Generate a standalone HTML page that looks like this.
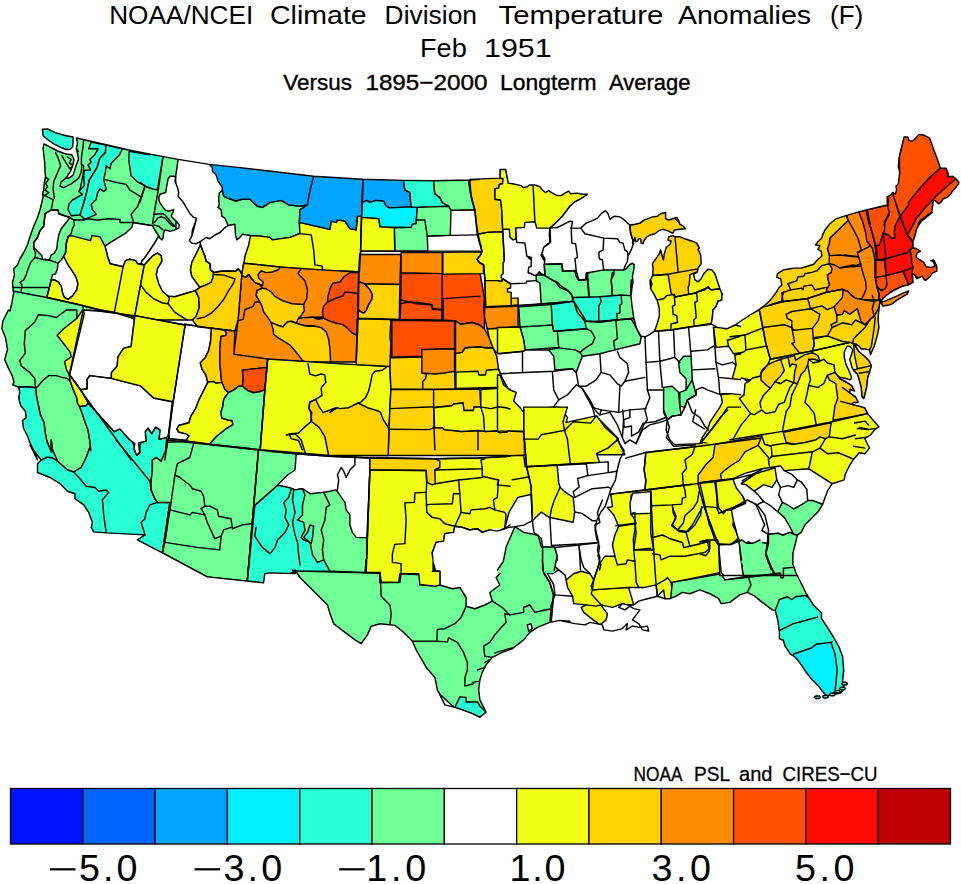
<!DOCTYPE html>
<html><head><meta charset="utf-8"><title>NOAA/NCEI Climate Division Temperature Anomalies</title>
<style>
html,body{margin:0;padding:0;background:#fff;}
body{width:961px;height:884px;overflow:hidden;font-family:"Liberation Sans",sans-serif;}
svg{display:block;}
text{font-family:"Liberation Sans",sans-serif;fill:#000;}
.p{stroke:#000;stroke-width:1.45;stroke-linejoin:round;}
.n{stroke:none;}
.l{fill:none;stroke:#000;stroke-width:1.45;stroke-linejoin:round;stroke-linecap:round;}
</style></head><body>
<svg width="961" height="884" viewBox="0 0 961 884">
<rect x="0" y="0" width="961" height="884" fill="#fff"/>
<defs><clipPath id="us"><polygon points="44,143.9 50,147 57.5,151 63.7,153.2 67.5,154.2 71.8,154.7 74,159.5 73.1,164.5 70.6,171.3 66.8,176.9 68.5,178.4 73.1,175.1 76.2,165.1 78.5,159.5 77.8,154.5 76.2,148.8 77.5,143.2 76.5,138 87.4,140.5 107.4,145 128.6,150 163.1,156.6 178.1,159.4 209.4,164.4 240,167.6 277.5,172 313.7,176.2 362.4,179.2 403.6,180.4 433.6,180.7 469.8,180 480,179.3 470,179.4 500,178.1 500,169.4 505.6,169.4 507.5,178.7 508.1,183.1 512.5,183.7 521.2,185.6 523.1,187.5 527.4,186.8 529.3,185 534.9,185 539.9,186.8 542.4,190 545.5,192.5 548.7,190.6 552.4,193.1 557.4,195.6 561.2,195.6 564.9,193.1 568.7,191.2 570.5,193.7 577.4,193.1 582.4,194.3 587.4,194.3 581.1,198.7 574.9,201.8 569.9,206.2 566.2,211.2 562.4,216.2 557.4,221.2 553.7,224.9 549.9,228.1 557.5,227.5 565,223.7 570,221.2 572.5,221.8 571.8,225.6 571.2,228.1 575,228.1 580.6,228.1 586.2,223.1 592.5,220.6 597.4,218.1 601.2,213.7 605.6,210.6 608.1,213.7 609.9,219.4 613.1,216.9 614.9,216.2 619.9,216.9 623.7,219.4 627.4,223.1 629.9,225 634.9,224.3 639.9,223.1 644.9,219.4 646.2,219.4 652.5,216.9 657.5,216.2 660.6,213.7 665.6,212.5 665.6,218.7 668.7,220 672.5,218.7 676.8,217.5 678.7,220.6 680,224.4 683.1,226.2 685.6,228.7 680,229.3 674.3,230 673.1,233.1 671.2,232.5 667.5,230.6 662.5,229.3 658.1,231.2 655,233.7 650,235 646.2,237.5 643.7,241.2 643.1,243.7 641.2,243.1 640.6,238.7 638.7,238.7 637.5,241.2 635.6,241.8 635,237.5 633.7,241.2 632.5,242.5 633.7,243.1 631.2,249.9 628,256.2 627.4,261.2 624.9,266.2 623.7,269.9 626.2,268.7 629.9,264.3 632.4,263.1 634.3,264.9 633.7,269.9 632.4,276.2 633,282.4 631.8,288.7 631.2,294.9 631.2,280 630.6,292.5 631.9,305 633.7,317.5 636.2,327.5 639.4,333.7 641.2,336.2 645,336.8 650,334.3 654.4,331.2 656.8,325 659.3,316.2 659.3,308.7 657.5,301.2 653.7,293.7 650.6,288.7 651.2,283.7 650,280 650.6,288.7 651.9,283.7 650.6,279.9 652.5,275.5 653.1,269.9 652.5,263.7 655,259.9 658.7,254.9 660.6,250 662.2,256.2 663.5,259.9 664.3,253.7 666.2,247.5 670,244.3 671.2,241.2 668.1,240 668.7,236.8 673.1,235.6 675,236.8 680,236.8 686.2,239.3 692.4,241.2 696.8,243.1 699.3,248.1 698.1,249.3 700.6,254.9 701.2,263.7 698.1,268.1 697.4,271.8 693.7,274.3 694.9,279.9 698.1,281.8 701.2,278.7 703.7,273.7 708,269.3 711.8,269.9 714.9,273.7 717.4,281.2 719.9,288.7 722.4,294.9 721.8,292.5 721.8,300 718,301.2 716.2,306.2 713,310 712.4,317.5 711.2,323.7 711.8,324.3 717.4,327.5 722.4,328.1 727.4,328.7 736.1,324.3 742.4,320 750,315 750,314.9 752.5,313.7 758.7,309.9 763.7,306.2 769.3,301.2 772.5,297.4 776.2,292.4 778.7,288.1 781.8,284.9 780.6,278.7 776.8,277.4 777.5,273.7 783.7,269.9 790,268.7 794.9,268.1 801.2,268.1 807.4,266.2 813.7,264.3 816.2,261.2 818.7,258.7 821.8,256.2 821.2,251.2 818,249.3 819.9,245.6 815.5,245 818,241.8 821.8,238.1 822.4,235.6 824.9,230 829.9,223.7 836.2,218.7 846.1,215.6 858.7,211.9 866.2,210 887.4,205 887.2,203 887.2,196.8 891,194.9 892.8,192.4 895.3,194.3 896.6,189.9 895.9,186.2 898.4,183.7 899.1,177.4 899.7,172.5 898.4,166.2 899.1,157.5 900.9,150 902.8,142.5 904.1,136.9 907.8,136.9 909.1,140.6 912.2,141.2 915.9,138.1 919,134.4 923.4,135 929.7,138.1 933.4,148.7 937.2,158.7 940.3,168.1 945.9,168.1 947.8,172.5 948.4,176.8 952.8,176.2 955.9,178.7 959,182.4 957.8,184.9 955.9,187.4 953.4,189.9 950.9,193.7 947.1,197.4 943.4,198.7 940.9,202.4 938.4,203.7 935.9,201.2 933.4,199.9 932.8,204.9 931.5,212.4 928.4,214.9 924.7,217.4 920.9,219.9 918.4,223.7 932.4,212.5 927.4,215 922.4,220 918.7,225 916.2,230 914.9,236.2 913,241.2 913,247.5 916.2,248.7 920.5,251.2 916.8,253.1 916.2,257.4 919.9,259.9 923.7,262.4 926.2,266.8 931.2,267.4 934.9,266.2 933.7,261.8 930.9,260.6 933.7,259.9 936.8,266.2 936.8,271.2 932.4,273.1 929.9,276.8 926.2,279.9 924.3,279.9 922.4,276.2 919.9,277.4 916.8,278.7 914.9,274.9 912.4,273.7 913,282.4 908.7,284.9 902.4,286.2 893.7,290.5 886.2,295.5 881.8,299.9 880,301.8 885,301.2 891.2,298.4 897.4,295.9 902.4,293.4 908.7,290.9 906.8,294.3 902.4,296.8 897.4,299.9 892.4,303.7 889.9,304.9 883,306 880.5,302 879.8,301.6 878,318.1 878.9,327.5 877,336.8 874.2,346.2 870.5,354.6 869.5,349.9 864.9,349 861.1,349 859.2,346.2 855.5,344.3 855.5,346.2 859.2,351.8 864.9,356.5 869.5,361.2 871.4,365.9 869.5,372.4 867.7,378 866.7,387.4 863.9,398.6 862,396.8 861.1,387.4 859.2,379.9 857.4,374.3 853.6,370.5 851.7,366.8 849.9,359.3 851.7,353.7 852.7,349.9 849.9,346.2 847.1,346.2 844.3,351.8 844.3,357.4 846.1,364.9 848.9,370.5 851.7,378 849.9,379.9 844.3,378 838.6,377.1 840.5,379 846.1,381.8 851.7,385.5 854.6,391.1 849.9,389.3 849.9,393 855.5,396.8 858.3,402.4 853.6,402.4 851.7,404.3 859.2,406.1 864.9,408 867.7,413.6 872.3,419.2 878.9,426.7 875.1,429.4 870.4,435 864.8,438.7 869.5,448.1 864.8,453.7 859.2,452.8 853.6,459.3 849.8,465 845.2,474.3 844.2,479.9 832,483.7 827.4,491.2 824.6,498.7 822.7,504.3 818,511.8 812.4,517.4 804.9,524.9 801.1,532.4 797.4,535.2 795.7,542.4 792.9,553.3 792.9,564.2 795.7,572.3 801.1,583.2 806.5,594 813.3,604.9 821.5,613 821.5,618.5 826.9,626.6 833.7,637.5 839.1,647 842.6,656.5 843.7,670.1 842.6,680.9 844.5,689.1 840.5,693.1 833.7,694.5 826.9,695.9 822.8,691.8 818.7,686.4 812,679.6 806.5,672.8 801.1,664.6 797,659.2 794.3,656.5 790.2,653.8 784.8,645.6 783.4,640.2 779.4,638.8 779.4,632 778,621.2 775.3,610.3 772.3,609.9 762.3,602.4 754.8,596.2 747.3,592.4 739.8,594.9 729.8,602.4 721.1,603.6 718.6,598.7 709.8,593.7 699.8,589.9 689.9,593.7 682.4,592.4 676.1,596.2 669.9,598.7 664.9,598.7 657.4,596.2 647.4,598.7 638.7,601.1 633.7,604.9 627.4,604.9 622.4,603.6 618.7,607.4 624.9,609.9 629.9,606.1 633.7,608.6 639.9,609.9 636.2,614.9 632.4,619.9 638.7,623.6 642.4,629.9 648.6,631.1 647.4,626.1 639.9,627.4 632.4,626.1 626.2,629.9 627.4,623.6 622.4,628.6 612.4,631.1 603.7,629.9 602.4,624.9 590,622.4 585,624.9 575,623.6 562.5,621.1 570,621.2 559.8,620.4 549.8,622.4 537.3,627.4 529.8,632.4 523.6,639.9 512.3,648.7 502.3,652.4 492.3,657.4 486.1,664.9 482.3,672.4 479.9,679.9 478.6,689.9 479.9,699.9 486.1,712.3 486.1,712.3 479.9,717.3 472.4,713.6 462.4,709.9 454.9,707.4 444.9,704.9 437.4,689.9 434.9,677.4 426.2,667.4 416.2,649.9 412.4,641.2 402.4,631.2 394.9,625.4 380,623.7 371.2,626.2 367.5,634.9 361.2,643.7 355,639.9 345,632.4 333.7,623.7 330,613.7 327.5,605 315,592.5 307.5,585 300,577.5 295,570 296.2,571.1 295,573.6 270,572.9 264.8,573.6 263.5,582.9 247.3,581.1 207.3,576.9 162.4,552.9 137.4,539.9 144.9,534.9 106.2,532.9 93.7,531.9 91.2,527.4 92.4,522.4 88.7,512.4 83.7,504.9 75,498.7 75,493.7 67.5,491.2 60,483.7 50,477.5 37.5,472.5 37.5,463.7 41.2,460 36.2,453.7 30,445 37.5,459.8 34.7,452.3 30.9,444.9 27.2,435.5 23.4,428 22.5,420.5 26.2,417.7 25.3,411.1 20.6,405.5 18.7,398 19.7,392.4 18.7,387.2 12.7,384.9 14,382.1 12.2,375.6 8.4,368.1 4.7,359.6 7.5,349.3 5.6,338.1 1.9,328.7 2.8,321.2 8.4,310 10,311 12,302.3 13,296.2 13.75,292.5 13.1,290 12.5,282.5 14.4,275 13.75,268.75 17.5,265 20,258.75 23.1,253.75 26.9,246.25 30.6,235 33.75,226.25 37.5,217.5 40,210 41.9,202 43.1,197 42.5,194.4 43.75,189.4 44.4,182 45.6,177 45,172 44.75,163.2 43.75,154.5 43.1,148.2 44,143.9"/></clipPath></defs>
<polygon fill="#fff" stroke="none" points="44,143.9 50,147 57.5,151 63.7,153.2 67.5,154.2 71.8,154.7 74,159.5 73.1,164.5 70.6,171.3 66.8,176.9 68.5,178.4 73.1,175.1 76.2,165.1 78.5,159.5 77.8,154.5 76.2,148.8 77.5,143.2 76.5,138 87.4,140.5 107.4,145 128.6,150 163.1,156.6 178.1,159.4 209.4,164.4 240,167.6 277.5,172 313.7,176.2 362.4,179.2 403.6,180.4 433.6,180.7 469.8,180 480,179.3 470,179.4 500,178.1 500,169.4 505.6,169.4 507.5,178.7 508.1,183.1 512.5,183.7 521.2,185.6 523.1,187.5 527.4,186.8 529.3,185 534.9,185 539.9,186.8 542.4,190 545.5,192.5 548.7,190.6 552.4,193.1 557.4,195.6 561.2,195.6 564.9,193.1 568.7,191.2 570.5,193.7 577.4,193.1 582.4,194.3 587.4,194.3 581.1,198.7 574.9,201.8 569.9,206.2 566.2,211.2 562.4,216.2 557.4,221.2 553.7,224.9 549.9,228.1 557.5,227.5 565,223.7 570,221.2 572.5,221.8 571.8,225.6 571.2,228.1 575,228.1 580.6,228.1 586.2,223.1 592.5,220.6 597.4,218.1 601.2,213.7 605.6,210.6 608.1,213.7 609.9,219.4 613.1,216.9 614.9,216.2 619.9,216.9 623.7,219.4 627.4,223.1 629.9,225 634.9,224.3 639.9,223.1 644.9,219.4 646.2,219.4 652.5,216.9 657.5,216.2 660.6,213.7 665.6,212.5 665.6,218.7 668.7,220 672.5,218.7 676.8,217.5 678.7,220.6 680,224.4 683.1,226.2 685.6,228.7 680,229.3 674.3,230 673.1,233.1 671.2,232.5 667.5,230.6 662.5,229.3 658.1,231.2 655,233.7 650,235 646.2,237.5 643.7,241.2 643.1,243.7 641.2,243.1 640.6,238.7 638.7,238.7 637.5,241.2 635.6,241.8 635,237.5 633.7,241.2 632.5,242.5 633.7,243.1 631.2,249.9 628,256.2 627.4,261.2 624.9,266.2 623.7,269.9 626.2,268.7 629.9,264.3 632.4,263.1 634.3,264.9 633.7,269.9 632.4,276.2 633,282.4 631.8,288.7 631.2,294.9 631.2,280 630.6,292.5 631.9,305 633.7,317.5 636.2,327.5 639.4,333.7 641.2,336.2 645,336.8 650,334.3 654.4,331.2 656.8,325 659.3,316.2 659.3,308.7 657.5,301.2 653.7,293.7 650.6,288.7 651.2,283.7 650,280 650.6,288.7 651.9,283.7 650.6,279.9 652.5,275.5 653.1,269.9 652.5,263.7 655,259.9 658.7,254.9 660.6,250 662.2,256.2 663.5,259.9 664.3,253.7 666.2,247.5 670,244.3 671.2,241.2 668.1,240 668.7,236.8 673.1,235.6 675,236.8 680,236.8 686.2,239.3 692.4,241.2 696.8,243.1 699.3,248.1 698.1,249.3 700.6,254.9 701.2,263.7 698.1,268.1 697.4,271.8 693.7,274.3 694.9,279.9 698.1,281.8 701.2,278.7 703.7,273.7 708,269.3 711.8,269.9 714.9,273.7 717.4,281.2 719.9,288.7 722.4,294.9 721.8,292.5 721.8,300 718,301.2 716.2,306.2 713,310 712.4,317.5 711.2,323.7 711.8,324.3 717.4,327.5 722.4,328.1 727.4,328.7 736.1,324.3 742.4,320 750,315 750,314.9 752.5,313.7 758.7,309.9 763.7,306.2 769.3,301.2 772.5,297.4 776.2,292.4 778.7,288.1 781.8,284.9 780.6,278.7 776.8,277.4 777.5,273.7 783.7,269.9 790,268.7 794.9,268.1 801.2,268.1 807.4,266.2 813.7,264.3 816.2,261.2 818.7,258.7 821.8,256.2 821.2,251.2 818,249.3 819.9,245.6 815.5,245 818,241.8 821.8,238.1 822.4,235.6 824.9,230 829.9,223.7 836.2,218.7 846.1,215.6 858.7,211.9 866.2,210 887.4,205 887.2,203 887.2,196.8 891,194.9 892.8,192.4 895.3,194.3 896.6,189.9 895.9,186.2 898.4,183.7 899.1,177.4 899.7,172.5 898.4,166.2 899.1,157.5 900.9,150 902.8,142.5 904.1,136.9 907.8,136.9 909.1,140.6 912.2,141.2 915.9,138.1 919,134.4 923.4,135 929.7,138.1 933.4,148.7 937.2,158.7 940.3,168.1 945.9,168.1 947.8,172.5 948.4,176.8 952.8,176.2 955.9,178.7 959,182.4 957.8,184.9 955.9,187.4 953.4,189.9 950.9,193.7 947.1,197.4 943.4,198.7 940.9,202.4 938.4,203.7 935.9,201.2 933.4,199.9 932.8,204.9 931.5,212.4 928.4,214.9 924.7,217.4 920.9,219.9 918.4,223.7 932.4,212.5 927.4,215 922.4,220 918.7,225 916.2,230 914.9,236.2 913,241.2 913,247.5 916.2,248.7 920.5,251.2 916.8,253.1 916.2,257.4 919.9,259.9 923.7,262.4 926.2,266.8 931.2,267.4 934.9,266.2 933.7,261.8 930.9,260.6 933.7,259.9 936.8,266.2 936.8,271.2 932.4,273.1 929.9,276.8 926.2,279.9 924.3,279.9 922.4,276.2 919.9,277.4 916.8,278.7 914.9,274.9 912.4,273.7 913,282.4 908.7,284.9 902.4,286.2 893.7,290.5 886.2,295.5 881.8,299.9 880,301.8 885,301.2 891.2,298.4 897.4,295.9 902.4,293.4 908.7,290.9 906.8,294.3 902.4,296.8 897.4,299.9 892.4,303.7 889.9,304.9 883,306 880.5,302 879.8,301.6 878,318.1 878.9,327.5 877,336.8 874.2,346.2 870.5,354.6 869.5,349.9 864.9,349 861.1,349 859.2,346.2 855.5,344.3 855.5,346.2 859.2,351.8 864.9,356.5 869.5,361.2 871.4,365.9 869.5,372.4 867.7,378 866.7,387.4 863.9,398.6 862,396.8 861.1,387.4 859.2,379.9 857.4,374.3 853.6,370.5 851.7,366.8 849.9,359.3 851.7,353.7 852.7,349.9 849.9,346.2 847.1,346.2 844.3,351.8 844.3,357.4 846.1,364.9 848.9,370.5 851.7,378 849.9,379.9 844.3,378 838.6,377.1 840.5,379 846.1,381.8 851.7,385.5 854.6,391.1 849.9,389.3 849.9,393 855.5,396.8 858.3,402.4 853.6,402.4 851.7,404.3 859.2,406.1 864.9,408 867.7,413.6 872.3,419.2 878.9,426.7 875.1,429.4 870.4,435 864.8,438.7 869.5,448.1 864.8,453.7 859.2,452.8 853.6,459.3 849.8,465 845.2,474.3 844.2,479.9 832,483.7 827.4,491.2 824.6,498.7 822.7,504.3 818,511.8 812.4,517.4 804.9,524.9 801.1,532.4 797.4,535.2 795.7,542.4 792.9,553.3 792.9,564.2 795.7,572.3 801.1,583.2 806.5,594 813.3,604.9 821.5,613 821.5,618.5 826.9,626.6 833.7,637.5 839.1,647 842.6,656.5 843.7,670.1 842.6,680.9 844.5,689.1 840.5,693.1 833.7,694.5 826.9,695.9 822.8,691.8 818.7,686.4 812,679.6 806.5,672.8 801.1,664.6 797,659.2 794.3,656.5 790.2,653.8 784.8,645.6 783.4,640.2 779.4,638.8 779.4,632 778,621.2 775.3,610.3 772.3,609.9 762.3,602.4 754.8,596.2 747.3,592.4 739.8,594.9 729.8,602.4 721.1,603.6 718.6,598.7 709.8,593.7 699.8,589.9 689.9,593.7 682.4,592.4 676.1,596.2 669.9,598.7 664.9,598.7 657.4,596.2 647.4,598.7 638.7,601.1 633.7,604.9 627.4,604.9 622.4,603.6 618.7,607.4 624.9,609.9 629.9,606.1 633.7,608.6 639.9,609.9 636.2,614.9 632.4,619.9 638.7,623.6 642.4,629.9 648.6,631.1 647.4,626.1 639.9,627.4 632.4,626.1 626.2,629.9 627.4,623.6 622.4,628.6 612.4,631.1 603.7,629.9 602.4,624.9 590,622.4 585,624.9 575,623.6 562.5,621.1 570,621.2 559.8,620.4 549.8,622.4 537.3,627.4 529.8,632.4 523.6,639.9 512.3,648.7 502.3,652.4 492.3,657.4 486.1,664.9 482.3,672.4 479.9,679.9 478.6,689.9 479.9,699.9 486.1,712.3 486.1,712.3 479.9,717.3 472.4,713.6 462.4,709.9 454.9,707.4 444.9,704.9 437.4,689.9 434.9,677.4 426.2,667.4 416.2,649.9 412.4,641.2 402.4,631.2 394.9,625.4 380,623.7 371.2,626.2 367.5,634.9 361.2,643.7 355,639.9 345,632.4 333.7,623.7 330,613.7 327.5,605 315,592.5 307.5,585 300,577.5 295,570 296.2,571.1 295,573.6 270,572.9 264.8,573.6 263.5,582.9 247.3,581.1 207.3,576.9 162.4,552.9 137.4,539.9 144.9,534.9 106.2,532.9 93.7,531.9 91.2,527.4 92.4,522.4 88.7,512.4 83.7,504.9 75,498.7 75,493.7 67.5,491.2 60,483.7 50,477.5 37.5,472.5 37.5,463.7 41.2,460 36.2,453.7 30,445 37.5,459.8 34.7,452.3 30.9,444.9 27.2,435.5 23.4,428 22.5,420.5 26.2,417.7 25.3,411.1 20.6,405.5 18.7,398 19.7,392.4 18.7,387.2 12.7,384.9 14,382.1 12.2,375.6 8.4,368.1 4.7,359.6 7.5,349.3 5.6,338.1 1.9,328.7 2.8,321.2 8.4,310 10,311 12,302.3 13,296.2 13.75,292.5 13.1,290 12.5,282.5 14.4,275 13.75,268.75 17.5,265 20,258.75 23.1,253.75 26.9,246.25 30.6,235 33.75,226.25 37.5,217.5 40,210 41.9,202 43.1,197 42.5,194.4 43.75,189.4 44.4,182 45.6,177 45,172 44.75,163.2 43.75,154.5 43.1,148.2 44,143.9"/>
<g id="map" clip-path="url(#us)">
<polygon class="p" fill="#6eff96" points="30,120 80,130 165,150 178.1,155 178.1,159.4 175.6,176.8 176,215 176,250 140,330 100,330 75,320 46.9,297.5 13.75,291.25 0,291 0,200"/>
<polygon class="p" fill="#6eff96" points="0,287.5 83.3,287.5 83.3,310 69.3,374.6 70.2,381.2 73,388.7 76.8,398 77.7,403.7 79.6,406.5 82.4,414 85.2,422.4 88,429.9 89.9,441.1 90.8,450.5 89.9,447.5 86.2,457.5 81.2,467.5 73.7,472 67.5,470 57.5,461.2 52.5,450 51.2,440 51.5,452.3 46.8,441.1 45,431.7 44,422.4 40.3,414.9 38.4,405.5 36.5,396.2 35.6,387.7 28.1,386.8 18.7,387.2 0,384.9"/>
<polygon class="p" fill="#28ffd2" points="91.2,142 105.9,145.1 105.5,152.6 99.9,158.2 96.8,168.2 89.3,180.1 86.8,191.9 83.7,203.2 80,215 71.2,215.7 68.1,209.4 68.7,204.4 72.5,200 82.4,194.4 78.7,191.3 84.3,185.7 83.7,174.4 84.9,170.1 90.6,170.1 88.1,165.1 91.2,162 89.9,159.5 94.9,154.5 98.1,148.8 88.7,148.8"/>
<polygon class="p" fill="#28ffd2" points="105.9,145.1 122.4,148.8 119.3,155.1 114.9,159.5 111.2,163.2 109.9,168.8 106.2,165.7 105.5,172 103.7,179.4 104.9,184.4 106.2,189.4 103.7,191.3 99.9,188.8 97.4,193.2 96.2,199.4 91.2,204.4 92.4,209.4 96.2,214.4 84.9,219.4 80,215 83.7,203.2 86.8,191.9 89.3,180.1 96.8,168.2 99.9,158.2 105.5,152.6"/>
<polygon class="p" fill="#28ffd2" points="129.3,151.3 150,154.7 140,151 163.1,156 157.5,189.7 152.5,189 145,186.2 140,182.7 144.9,185.7 137.4,181.9 131.1,175.7 129.9,168.2 128.7,159.5"/>
<polygon class="p" fill="#ffffff" points="51.2,210 58.1,210 58.7,213.7 66.2,216.2 69.9,217.5 66.2,222.5 61.2,228.7 58.7,235 57.4,242.5 56.8,248.7 54.3,253.1 51.2,255 49.3,260 42.5,259.3 41.8,255.6 37.5,251.2 33.7,247.5 33.7,242.5 37.5,237.5 40,230.6 43.7,226.2 44.3,221.2 45,213.7"/>
<polygon class="p" fill="#ffffff" points="63.7,256.2 65.6,260 68.1,264.9 72.4,271.2 76.2,277.4 78,283.7 76.8,289.9 72.4,296.2 68.1,299.3 64.3,297.4 62.4,292.4 61.2,286.2 58.1,281.8 54.3,279.9 51.2,279.9 52.4,274.9 55.6,273.7 57.4,268.7 58.1,263.1 61.2,260"/>
<polygon class="p" fill="#ffffff" points="105,246.2 111.2,241.9 125,233.7 131.8,227.5 133.1,222.5 152.4,225.6 154.9,230 158.7,236.2 154.3,243.7 149.3,251.2 145,257.5 141.8,261.2 141.2,263.7 137.5,263.7 135.6,260.6 130,259.3 125.6,260.6 123.1,266.8 110,263.7 107.5,256.2"/>
<polygon class="p" fill="#28ffd2" points="18.7,387.2 28.1,386.8 35.6,387.7 36.5,396.2 38.4,405.5 40.3,414.9 44,422.4 45,431.7 46.8,441.1 51.5,452.3 51.2,440 52.5,450 57.5,461.2 67.5,470 73.7,472 81.2,467.5 86.2,457.5 89.9,447.5 90.8,450.5 89.9,441.1 88,429.9 85.2,422.4 82.4,414 79.6,406.5 86.2,405.5 88,402.7 114.3,431.7 119.9,428.9 129.2,439.2 134.9,443.9 133.9,448.6 136.7,455.2 139.5,452.3 138.6,443 146.1,441.1 145.2,431.7 148,428 151.7,433.6 155.5,427.1 160.1,429.9 159.2,439.2 166.7,437.4 164.8,459.8 166.1,450 161.1,461.2 156.1,457.5 152.4,460 152.4,470 151.1,481.2 151.1,490 154.9,498.7 157.4,502.4 169.9,502.4 162.4,552.9 137.4,544.9 93.7,539.9 30,490 20,440"/>
<polygon class="p" fill="#ffffff" points="175.6,176.8 173.7,176.2 170,176.2 168.1,178.7 166.8,186.2 165.6,192.5 160,194.3 158.7,198.1 159.4,201.8 161.9,205.6 165,209.9 168.1,211.2 173.7,209.7 173.1,211.8 171.2,216.2 176.2,221.2 179.3,224.9 178.7,228 175,229.9 170,231.2 165,229.9 163.7,232.4 163.1,237.4 161.9,239.9 159.4,237.4 158.7,236.2 154.3,243.7 149.3,251.2 145,257.5 141.8,261.2 141.2,263.7 144.3,265 152.4,256.2 157.4,253.1 161.2,255.6 161.8,261.2 157.4,268.7 156.2,274.9 158.7,283.7 162.4,291.2 168.1,296.2 174.9,296.8 184.9,293.7 195.5,290.6 199.9,287.4 196.2,282.4 191.8,276.2 190.5,270 191.8,262.5 196.2,253.7 200.5,245 199.9,241.9 196.2,243.7 191.8,243.1 189.3,240.6 191.8,236.2 192.4,230 196.2,220 191.8,236.2 192.4,229.9 194.9,224.9 196.2,218.1 193.7,217.4 190,213.7 186.2,207.4 182.5,201.2 178.1,196.2 178.7,192.5 177.5,187.5 175,181.2"/>
<polygon class="p" fill="#6eff96" points="167.4,440 258.5,450 247.3,581.1 207.3,576.9 162.4,552.9 169.9,502.4 157.4,502.4 154.9,498.7 151.1,490 151.1,481.2 152.4,470 152.4,460 156.1,457.5 161.1,461.2 166.1,450"/>
<polygon class="p" fill="#ffffff" points="131.1,438.8 143.6,438.8 139.9,445 139.9,452.5 137.4,455 134.9,447.5"/>
<polygon class="p" fill="#ffffff" points="83.3,310 97.4,310.9 134.9,315.6 131.1,346.5 123.6,348.4 118,356.8 117.1,366.2 111.4,372.7 111.4,378.4 140.5,385.9 153.6,398 172.3,401.8 168.6,434.6 166.7,437.4 159.2,439.2 160.1,429.9 155.5,427.1 151.7,433.6 148,428 145.2,431.7 146.1,441.1 138.6,443 139.5,452.3 136.7,455.2 133.9,448.6 134.9,443.9 129.2,439.2 119.9,428.9 114.3,431.7 88,402.7 80.5,389.6 69.3,374.6"/>
<polygon class="p" fill="#ffffff" points="184.3,324.3 211.5,328.1 210.6,341.2 208.7,350.6 205,358.1 200.3,362.7 202.1,369.3 205.9,374.9 207.8,382.4 204,389.9 199.3,399.3 195.6,408.6 190.9,416.1 189,422.7 178.7,425.5 176.9,429.2 178.7,432 186.2,433.9 189,435.8 186.2,440.5 169.4,438.6 168.4,434.9 173.1,401.1"/>
<polygon class="p" fill="#f0ff14" points="68.1,236.8 71.2,235.6 90.5,240.6 91.8,235.6 99.9,236.8 100,236.9 105,246.2 107.5,256.2 110,263.7 123.1,266.8 125.6,260.6 130,259.3 135.6,260.6 137.5,263.7 144.3,265 134.3,318.7 114.4,312.5 100,310 75,303.75 46.9,297.5 51.2,279.9 54.3,279.9 58.1,281.8 61.2,286.2 62.4,292.4 64.3,297.4 68.1,299.3 72.4,296.2 76.8,289.9 78,283.7 76.2,277.4 72.4,271.2 68.1,264.9 65.6,260 63.7,256.2 65.6,252.5 66.2,243.7"/>
<polygon class="p" fill="#f0ff14" points="144.3,265 152.4,256.2 157.4,253.1 161.2,255.6 161.8,261.2 157.4,268.7 156.2,274.9 158.7,283.7 162.4,291.2 168.1,296.2 174.9,296.8 184.9,293.7 195.5,290.6 198.7,297.4 199.3,307.4 196.2,316.2 192.4,319.9 134.3,319.9 134.3,318.7"/>
<polygon class="p" fill="#f0ff14" points="200.5,245 202.4,250 204.9,256.2 206.1,261.2 209.9,263.7 210.5,270 213.6,272.4 213,277.4 211.1,282.4 206.1,284.9 199.9,287.4 196.2,282.4 191.8,276.2 190.5,270 191.8,262.5 196.2,253.7"/>
<polygon class="p" fill="#f0ff14" points="76.8,318.4 83.3,309.1 84.3,313.7 69.7,374.6 80.5,389.6 88,402.7 86.2,405.5 79.6,406.5 77.7,403.7 76.8,398 73,388.7 70.2,381.2 69.3,374.6 66.5,369.9 64.6,361.5 71.2,356.8 70.2,352.1 63.7,343.7 57.1,335.3 63.7,328.7"/>
<polygon class="p" fill="#f0ff14" points="134.9,315.6 185.1,325 173.1,401.8 153.6,398 140.5,385.9 111.4,378.4 111.4,372.7 117.1,366.2 118,356.8 123.6,348.4 131.1,346.5"/>
<polygon class="p" fill="#6eff96" points="222.4,190 219.3,193.1 218.7,198.7 219.3,204.9 218,207.4 221.2,209.9 221.8,216.2 224.9,218.1 227.4,223.7 228,225.5 234.9,224.3 235.5,234.9 236.8,239.9 239.9,237.4 242.4,234.3 250.5,235.5 260,236.1 270,237.4 272.5,239.9 290,237.4 299.9,233.6 299.4,222.4 299.9,209.9 307.4,204.9 299.9,206.2 288.7,204.9 281.2,200.4 270,202.4 262.5,207.4 257.4,206.2 252.4,201.8 249.9,199.3 242.4,199.3 238.7,200 236.2,201.2 231.2,199.3 227.4,198.1 223.7,196.2"/>
<polygon class="p" fill="#f0ff14" points="250.5,235.6 260,236.1 270,237.4 272.5,239.9 290,237.4 299.9,233.6 299.4,222.4 329.9,229.4 331.2,221.1 336.2,222.4 337.4,219.9 344.9,221.1 349.9,228.6 356.1,229.9 357.4,216.2 361.6,216.2 360.6,251.1 359.4,271.6 314.9,269.9 243.7,264.4 245,256.1 248.7,244.9"/>
<polygon class="p" fill="#00a5ff" points="209.3,162.5 209.3,164.4 212.4,167.5 212.4,171.2 216.2,175 218,181.2 221.8,186.2 222.4,190 223.7,196.2 227.4,198.1 231.2,199.3 236.2,201.2 238.7,200 242.4,199.3 249.9,199.3 252.4,201.8 257.4,206.2 262.5,207.4 270,202.4 281.2,200.4 288.7,204.9 299.9,206.2 307.4,204.9 309.9,191.2 313.7,176.2 313.7,171.2"/>
<polygon class="p" fill="#00a5ff" points="313.7,171.2 313.7,176.2 309.9,191.2 307.4,204.9 299.9,209.9 299.4,222.4 329.9,229.4 331.2,221.1 336.2,222.4 337.4,219.9 344.9,221.1 349.9,228.6 356.1,229.9 357.4,216.2 361.6,216.2 362.9,179.2 362.9,174.9"/>
<polygon class="p" fill="#00a5ff" points="362.9,174.9 362.9,179.2 362.4,202.4 367.4,200.4 369.9,202.4 376.1,200.4 383.6,201.2 386.1,206.2 389.9,207.9 411.1,206.9 409.8,192.4 404.8,189.9 403.6,180.4 403.6,176.2"/>
<polygon class="p" fill="#00f0ff" points="362.4,202.4 367.4,200.4 369.9,202.4 376.1,200.4 383.6,201.2 386.1,206.2 389.9,207.9 411.1,206.9 417.3,207.4 416.1,223.6 412.3,224.4 411.1,227.4 379.9,226.9 378.6,218.7 361.6,217.4"/>
<polygon class="p" fill="#28ffd2" points="403.6,176.2 403.6,180.4 404.8,189.9 409.8,192.4 411.1,206.9 417.3,207.4 448.5,206.2 442.3,202.4 439.8,197.4 434.8,193.7 433.6,180.7 433.6,176.2"/>
<polygon class="p" fill="#6eff96" points="433.6,176.2 433.6,180.7 434.8,193.7 439.8,197.4 442.3,202.4 448.5,206.2 451,210.4 474.8,209.9 471,194.9 469.8,179.9 469.8,176.2"/>
<polygon class="p" fill="#6eff96" points="417.3,207.4 448.5,206.2 451,210.4 450.3,235.4 427.3,236.1 427.8,251.1 394.8,251.1 394.3,227.9 411.1,227.4 412.3,224.4 416.1,223.6"/>
<polygon class="p" fill="#f0ff14" points="361.6,217.4 378.6,218.7 379.9,226.9 394.3,227.9 394.8,251.1 360.6,251.1"/>
<polygon class="p" fill="#ff8c00" points="243.7,263.2 279.9,267 325,270.1 358.7,272 358.1,318.2 356.2,361.9 304.9,361.9 267.4,359.4 233.7,355 238.1,319.4 241.8,274.5"/>
<polygon class="p" fill="#ff8c00" points="359.7,254.5 400.9,254.5 399.9,284.5 364.9,283.9 369.9,289.5 372.4,294.5 371.8,299.5 368.7,304.5 366.2,310.7 363.7,313.2 359.9,311.3 358.4,309.5 358.7,272"/>
<polygon class="p" fill="#ffd200" points="364.9,283.9 399.9,284.5 399.3,319.4 358.1,318.2 358.4,309.5 359.9,311.3 363.7,313.2 366.2,310.7 368.7,304.5 371.8,299.5 372.4,294.5 369.9,289.5"/>
<polygon class="p" fill="#ffd200" points="243.7,263.2 279.9,267 278.7,269.5 272.4,272 266.2,272.6 261.2,270.7 258.1,274.5 258.7,278.2 263.1,282 262.4,285.7 259.9,284.5 255,282.6 251.2,278.2 248.7,274.5 246.2,277 243.1,276.4 241.8,274.5"/>
<polygon class="p" fill="#ffd200" points="262.4,288.2 266.2,288.8 271.2,292 274.9,296.3 282.4,300.7 292.4,303.8 303.7,304.5 304.3,310.7 301.2,315.7 298.7,318.2 297.4,320.7 296.2,323.2 291.2,321.3 287.4,321.9 284.9,324.4 283,326.9 278.7,325.7 271.2,322.6 267.4,316.9 263.7,312 261.8,305.7 259.9,302 256.2,295.7 256.8,290.7"/>
<polygon class="p" fill="#ffd200" points="271.2,322.6 278.7,325.7 283,326.9 284.9,324.4 287.4,321.9 291.2,321.3 296.2,323.2 304.9,325.7 314.9,325.7 307.5,326.3 315,326.3 321.2,327.6 326.2,331.9 328.7,339.4 330,349.4 330.6,361.9 304.9,361.9 302.4,360.7 299.9,356.9 294.9,350.7 289.9,345 284.9,341.9 278.7,338.2 273.7,334.4 273.1,329.4"/>
<polygon class="p" fill="#ff5000" points="350,272.6 358.7,272.6 358.1,293.8 357.4,335.7 352.4,333.2 347.5,328.2 342.5,324.4 336.2,323.2 328.7,320.7 323.1,318.2 322.5,312 323.7,306.3 327.5,302 328.1,295.7 330.6,287 333.1,283.2 340,282 343.7,277"/>
<polygon class="p" fill="#ffd200" points="213.6,272.4 213,277.4 211.1,282.4 206.1,284.9 199.9,287.4 195.5,290.6 198.7,297.4 199.3,307.4 196.2,316.2 192.4,319.9 197.5,326.8 234.9,330.9 238.1,319.4 241.8,274.5 240.6,271.4 238.1,268.9 235,271.4 228.7,270.7 221.2,271.4 213.7,272.6"/>
<polygon class="p" fill="#ffd200" points="211.5,328.1 224.6,330 226.5,332.8 225.6,335.6 220.9,336.5 219.9,348.7 219.9,363.7 220.9,374.9 221.8,382.4 216.2,383.3 213.4,381.5 207.8,382.4 205.9,374.9 202.1,369.3 200.3,362.7 205,358.1 208.7,350.6 210.6,341.2"/>
<polygon class="p" fill="#ff8c00" points="224.6,330 234.9,330.9 234,354.3 267.7,359 266.8,367.4 242.4,370.2 243.3,378.7 242.4,386.2 238.7,386.2 234,389.9 228.4,392.7 224.6,389 221.8,382.4 220.9,374.9 219.9,363.7 219.9,348.7 220.9,336.5 225.6,335.6 226.5,332.8"/>
<polygon class="p" fill="#ff5000" points="242.4,370.2 266.8,367.4 264.9,389.9 259.3,391.8 253.7,392.7 248,390.8 243.3,387.1 242.4,386.2 243.3,378.7"/>
<polygon class="p" fill="#f0ff14" points="207.8,382.4 213.4,381.5 216.2,383.3 221.8,382.4 224.6,389 228.4,392.7 223.7,399.3 222.7,406.8 220.9,412.4 221.8,418 227.4,419.9 232.1,420.8 233,424.6 225.6,429.2 216.2,436.7 209.6,444.2 189,441.4 186.2,440.5 189,435.8 186.2,433.9 178.7,432 176.9,429.2 178.7,425.5 189,422.7 190.9,416.1 195.6,408.6 199.3,399.3 204,389.9"/>
<polygon class="p" fill="#6eff96" points="228.4,392.7 234,389.9 238.7,386.2 242.4,386.2 243.3,387.1 248,390.8 253.7,392.7 259.3,391.8 264.9,389.9 260.2,449.8 209.6,444.2 216.2,436.7 225.6,429.2 233,424.6 232.1,420.8 227.4,419.9 221.8,418 220.9,412.4 222.7,406.8 223.7,399.3"/>
<polygon class="p" fill="#f0ff14" points="267.7,359 340,363.7 356.2,364.6 389.9,366.5 390.9,389.3 389.9,408.6 389,429.2 388.1,455.5 330,455.5 260.2,449.8 264.9,389.9"/>
<polygon class="p" fill="#6eff96" points="258.5,450 296.2,453.7 329.9,456.2 369.9,458 369.9,470 367.4,537.4 366.2,572.9 296.2,571.1 247.3,581.1"/>
<polygon class="p" fill="#ff5000" points="401.1,273.6 480,272.8 484.5,298.1 483.6,307.5 484.5,316.9 484.5,329 479.8,325.3 472.3,322.5 461.1,324.3 454.6,320.6 400.2,319.7 400.8,296.3"/>
<polygon class="p" fill="#ff8c00" points="401.1,252.4 442.3,252.4 442.3,273.6 401.1,272.8"/>
<polygon class="p" fill="#ffd200" points="442.8,252.4 483.5,251.9 483.5,273.6 442.8,274.1"/>
<polygon class="p" fill="#ffd200" points="357.2,318.7 400.2,319.7 442.4,320.2 454.6,320.6 455.5,353.4 462,352.4 464.9,347.8 479.8,346.8 485.5,347.8 493,347.8 496.7,356.2 498.6,369.3 502.3,378.7 507,387.1 479.8,389 433,389.5 390.9,389.3 389.9,366.5 356.2,364.6"/>
<polygon class="p" fill="#ffd200" points="390.9,389.3 433,389.5 479.8,389 480.8,406.8 474.2,406.8 473.3,410.5 463.9,410.5 463,403 453.6,404 451.7,405.8 434,407.1 434,427.4 442.4,427.7 444.3,429.6 455.5,430.7 461.1,431.5 478,430.5 485.5,431.5 496.7,430.7 499.5,432.6 512.6,431.5 512.6,455.5 388.1,455.5 389,429.2 389.9,408.6"/>
<polygon class="p" fill="#ffd200" points="309.8,402.1 315.5,399.3 319.2,406.8 323,412.4 328.6,410.5 336.1,407.7 330,412.4 337.5,407.7 339.4,408.6 348.7,407.7 358.1,403 367.5,407.7 376.8,410.5 380.6,412.4 383.4,419.9 387.1,425.5 389,429.2 388.1,455.5 328.6,455.5 324.8,436.7 319.2,427.4 311.7,421.7 310.8,412.4 308.9,408.6"/>
<polygon class="p" fill="#ffffff" points="296.2,453.7 295,470 287.5,475 277.5,484.9 290,487.9 295,489.9 302.5,488.7 310,493.7 322.4,492.4 329.9,491.2 336.2,489.9 344.9,502.4 346.2,509.9 349.9,514.9 349.9,524.9 352.4,532.4 356.2,537.4 366.9,537.9 369.9,470 369.9,458 329.9,456.2"/>
<polygon class="p" fill="#28ffd2" points="254.8,505.4 277.5,485.4 290,487.9 295,489.9 302.5,488.7 305,494.9 302.5,504.9 302.5,514.9 297.5,519.9 303.7,522.4 305,529.9 301.2,537.4 303.7,539.9 310,542.4 312.5,554.9 317.5,562.4 323.7,559.9 329.9,571.1 296.2,571.1 263.5,582.9 247.3,581.1"/>
<polygon class="p" fill="#ffd200" points="485.5,298.1 518.1,298.1 518.1,305.2 484.5,307.5"/>
<polygon class="p" fill="#ff8c00" points="484.5,307.5 518.1,305.2 518.1,326.8 487.3,329 484.5,316.9"/>
<polygon class="p" fill="#ff5000" points="391.8,320.2 454.6,321 454.6,348.7 421.8,349.6 421.8,356.2 391.8,357.1"/>
<polygon class="p" fill="#ff8c00" points="455.5,321 461.1,324.3 472.3,322.5 479.8,325.3 484.5,329 489.2,337.5 493,347.8 485.5,347.8 479.8,346.8 464.9,347.8 462,352.4 455.5,353.4"/>
<polygon class="p" fill="#ff8c00" points="421.8,349.6 454.6,348.7 454.6,371.2 444.3,373 434.9,374 421.8,373"/>
<polygon class="p" fill="#f0ff14" points="455.9,372.1 478,371.2 478.9,374.9 485.5,374.9 486.4,370.2 498.6,369.3 502.3,378.7 507,387.1 455.9,388.4"/>
<polygon class="p" fill="#f0ff14" points="480.8,389.5 507,387.7 512.6,391.8 512.6,431.5 499.5,432.6 496.7,430.7 485.5,431.5 478,430.5 461.1,431.5 455.5,430.7 444.3,429.6 442.4,427.7 434.5,427.7 434,407.7 451.7,405.8 453.6,404 463,403 463.9,410.5 473.3,410.5 474.2,406.8 480.8,407.1"/>
<polygon class="p" fill="#f0ff14" points="487.3,329 512.6,327.7 512.6,351.5 495.8,352.4 493,347.8 489.2,337.5"/>
<polygon class="p" fill="#28ffd2" points="310,524.9 313.7,526.2 312.5,537.4 311.2,543.6 303.7,537.4 307.5,532.4"/>
<polygon class="p" fill="#f0ff14" points="369.9,458 434.8,458.7 478.5,458 513.5,456.2 513.5,529.9 504.8,528.7 497.3,531.1 489.8,529.9 482.3,532.4 477.3,528.7 469.8,529.9 462.3,527.4 454.8,526.2 453.6,532.4 444.8,533.6 443.6,541.1 436.1,542.4 432.3,552.4 433.6,569.9 439.8,572.4 439.8,584.8 419.9,584.8 419.9,574.9 401.1,573.6 399.9,582.3 379.9,582.8 379.9,573.6 366.2,572.9 367.4,537.4 369.9,470"/>
<polygon class="p" fill="#ffd200" points="369.9,458 434.8,458.7 439.8,461.2 439.8,467.5 434.8,470 435.3,483.7 432.3,484.9 426.8,482.4 426.1,470.5 369.9,470"/>
<polygon class="p" fill="#6eff96" points="296.2,571.1 366.2,572.9 379.9,573.6 379.9,582.8 399.9,582.3 401.1,573.6 419.9,574.9 419.9,584.8 439.8,584.8 439.8,572.4 502.3,571.2 497.3,563.7 502.3,555 542.3,555 543.5,572.5 549.8,582.5 553.5,595 552.3,608.7 551,624.9 504.8,659.9 489.8,719.8 469.9,722.3 429.9,684.9 412.4,644.9 380,629.9 360,647.4 330,624.9 292.5,570"/>
<polygon class="p" fill="#ffffff" points="454.8,526.2 462.3,527.4 469.8,529.9 477.3,528.7 482.3,532.4 489.8,529.9 497.3,531.1 504.8,528.7 513.5,524.9 513.5,544.9 502.3,558.8 497.3,563.7 502.3,571.2 496.1,577.5 499.8,585 489.8,592.5 492.3,601.2 484.8,605 474.9,608.7 466.1,606.2 466.1,597.5 459.9,587.5 452.4,588.7 439.9,585 439.9,571.2 432.4,571.2 432.4,560 439.8,584.8 439.8,572.4 433.6,569.9 432.3,552.4 436.1,542.4 443.6,541.1 444.8,533.6 453.6,532.4"/>
<polygon class="n" fill="#f0ff14" points="366.2,558.8 432.4,558.8 432.4,571.2 439.9,571.2 439.9,585 434.9,586.2 419.9,584.5 418.7,573.7 399.9,573.7 398.7,582.5 381.2,582 380,572.5 366.2,572.5"/>
<polygon class="p" fill="#28ffd2" points="459.9,696.9 466.1,697.4 466.1,701.9 477.4,701.9 479.9,706.1 486.1,712.3 479.9,717.3 472.4,713.6 462.4,709.9 454.9,707.4"/>
<polygon class="p" fill="#ffffff" points="527.3,624.9 531,623.7 532.3,628.7 528.6,631.2"/>
<polygon class="p" fill="#6eff96" points="540,547.5 555,547.5 557.5,559.9 553.7,564.9 558.7,569.9 552.5,573.7 543.7,572.4 540,569.9"/>
<polygon class="p" fill="#f0ff14" points="566.2,579.9 573.7,573.7 581.2,571.2 590,573.7 593.7,579.9 591.2,586.2 592.4,589.9 628.7,587.4 633.7,604.9 627.4,604.9 622.4,603.6 612.4,607.4 601.2,604.9 602.4,607.4 607.4,613.6 606.2,619.9 599.9,624.9 590,617.4 583.7,612.4 581.2,607.4 586.2,604.9 573.7,603.6 572.5,596.2 567.5,587.4"/>
<polygon class="p" fill="#f0ff14" points="610.8,494.1 645,490 683.3,485.3 698.2,483.6 716.6,481.6 733.2,479.1 733.2,480 736.5,488.3 743.2,496.6 745.7,503.3 738.2,506.6 731.5,509.9 733.2,519.9 738.2,538.2 731.5,544.1 719,544.9 721.1,572.4 672.4,582.4 671.1,582.4 672.4,591.2 676.1,596.2 669.9,598.7 664.9,598.7 663.6,589.9 657.4,596.2 656.1,584.9 644.9,587.4 638.7,587.4 628.7,587.4 592.4,589.9 593.7,579.9 596.2,572.4 598.7,564.9 604.9,556.2 614.9,556.2 612.4,545 614.9,535 618.7,526.2 613.7,515 607.4,507.5 612.5,506.6 610.8,494.9"/>
<polygon class="p" fill="#6eff96" points="672.4,582.4 721.1,573.7 724.8,579.9 748.5,576.2 744.8,567.4 742.3,553.7 738.6,541.2 744.8,540 753.5,546.2 759.8,541.2 767.3,543.7 768.5,533.7 814.7,535 814.7,649.9 714.8,649.9 669.9,604.9"/>
<polygon class="p" fill="#ffffff" points="631.2,495 651.1,495 651.1,511.2 634.9,512.5 631.2,513.7"/>
<polygon class="p" fill="#ffffff" points="756.3,496.3 778,509.9 783.4,515.3 791.6,532.9 780.7,532.9 768.5,534.3 768.5,543.8 759,542.4 752.2,545.2 740,539.7 734.6,507.2"/>
<polygon class="p" fill="#ffd200" points="470,177.5 500,176.2 503.1,178.7 502.5,183.7 499.3,184.4 498.7,188.1 495,188.7 495,199.3 500.6,200 501.8,210 502.7,231.8 487.5,232.4 478.1,234.3 476.2,222.4 475,210 472.5,202.5 470,191.2 468.8,182.5"/>
<polygon class="p" fill="#f0ff14" points="503.1,178.7 500,178.1 500,167.5 505.6,167.5 507.5,178.7 510,181.2 534.9,182.5 587.4,192.5 589.9,194.7 581.1,198.7 574.9,201.8 569.9,206.2 566.2,211.2 562.4,216.2 557.4,221.2 553.7,224.9 549.9,228.1 536.8,228.1 534.9,221.8 524.9,222.4 524.3,227.4 515.6,228.1 516.2,238.7 513.1,239.9 510,237.4 509.3,229.3 502.7,229.3 501.8,210 500.6,200 495,199.3 495,188.7 498.7,188.1 499.3,184.4 502.5,183.7"/>
<polygon class="p" fill="#f0ff14" points="478.1,234.3 487.5,232.4 502.7,231.8 504.3,259.9 504.3,261.2 503.1,262.5 503.1,273.7 501.2,275 501.2,277.5 502.5,278.7 501.8,281.2 498.7,281.2 498.1,280.6 485,280.6 483.7,265 479.4,262.5 476.9,259.4 480.6,255 481.9,251.2 480.6,245 481.9,252.4 479.4,239.9"/>
<polygon class="p" fill="#ffd200" points="485,280.6 498.1,280.6 498.7,281.2 501.8,281.2 502.5,278.7 507.5,281.8 510.6,283.7 510.6,288.1 507.5,288.7 507.5,291.8 511.2,292.4 511.2,305.6 485.6,306.8"/>
<polygon class="p" fill="#6eff96" points="536.2,275.6 539.3,271.8 541.8,275 544.9,275 549.9,278.7 556.2,282.5 559.9,287.5 566.2,290 571.1,293.7 572.4,297.4 572.6,301.4 541.2,303.9 539.9,283.1 536.2,280.6"/>
<polygon class="p" fill="#6eff96" points="545,264.3 561.9,263.7 563.1,271.2 576.2,270.5 578.7,279.9 585.6,279.9 586.8,273 603.7,269.9 614.3,269.9 623.7,269.9 626.2,268.7 629.9,264.3 632.4,263.1 636.2,263.1 637.4,294.9 633.7,280 633.7,320 633,318.1 617.4,320 598.7,321.2 584.9,321.8 582.4,320 577.5,318.7 575.6,312.5 574.3,307.5 573.1,302.5 572.5,296.8 571.2,293.7 567.5,290 561.2,286.2 557.5,282.5 550,278.7 543.7,275 539.4,272.5 536.2,275 544.9,275 544.3,265"/>
<polygon class="p" fill="#ffd200" points="629.9,225 634.9,224.3 639.9,223.1 644.9,219.4 646.2,217.5 665.6,211.2 687.4,228.7 673.1,234.3 655,235 642.5,245 632.5,243.7 633.7,243.1 632.4,238.7 630.5,232.5"/>
<polygon class="p" fill="#f0ff14" points="648.7,274.9 699.9,267.4 717.4,269.9 724.9,294.9 724.9,292.5 721.8,300 718,301.2 716.2,306.2 713,310 712.4,317.5 711.2,324.3 694.3,326.2 670.6,330 654.4,331.2 648.7,332.4 648.7,280"/>
<polygon class="p" fill="#28ffd2" points="775.3,610.3 779.4,599.5 787.5,596.8 791.6,599.5 795.7,596.8 805.2,595.4 854,632 854,702.6 807.9,702.6 767.2,642.9"/>
<polygon class="p" fill="#6eff96" points="778,509.9 806.5,500.4 822.8,503.9 829.6,520.7 798.4,534.3 791.6,532.9 783.4,515.3"/>
<polygon class="p" fill="#28ffd2" points="573.1,297.5 599.9,296.8 621.2,295 621.8,303.7 619.9,305 619.9,313.1 616.8,313.7 617.4,320 598.7,321.2 584.9,321.8 582.4,320 577.5,318.7 575.6,312.5 574.3,307.5 573.1,302.5"/>
<polygon class="p" fill="#ffd200" points="666.2,235 704.9,237.5 704.9,264.9 698.1,268.9 697.4,271.8 692.4,273.7 689.9,274.9 689.3,284.9 688.1,287.4 688.7,294.3 676.2,296.8 671.2,293.7 668.1,274.3 652.5,275.5 648.7,274.9 648.7,262.4 661.2,247.5"/>
<polygon class="p" fill="#00f0ff" points="794.3,653.8 810.6,648.3 816,644.3 831,642.4 835,653.8 837.2,670.1 835,691.8 826.9,697.2 807.9,686.4 788.9,659.2"/>
<polygon class="p" fill="#6eff96" points="518.7,306.7 551.2,304.5 573.7,301.2 586.2,321.2 599.9,322 616.1,320 631.1,318.7 636.1,327.5 641.1,337.5 639.9,343.7 614.9,349.9 599.9,353.7 582.4,356.2 579.9,362.4 576.2,372.4 572.4,368.7 554.9,369.9 553.7,356.2 548.7,349.9 525,349.9 523.7,340 520,327"/>
<polygon class="p" fill="#28ffd2" points="551.2,304.5 573.7,301.2 574.9,305 577.4,312.5 584.9,321.2 586.2,328.7 553.7,331.2 552.4,325"/>
<polygon class="p" fill="#f0ff14" points="497.5,327.5 520,327 523.7,340 525,349.9 523.7,351.2 497.5,353.7"/>
<polygon class="p" fill="#6eff96" points="678.6,362.4 683.6,356.2 691.1,356.2 692.3,379.9 694.8,389.9 696.1,394.9 687.3,399.9 684.8,407.4 679.8,406.1 679.8,392.4 686.1,389.9 686.1,378.7 679.8,372.4"/>
<polygon class="p" fill="#6eff96" points="663.6,387.4 672.3,386.2 678.6,392.4 679.8,406.1 681.1,414.9 672.3,416.1 667.3,419.9 663.6,412.4"/>
<polygon class="p" fill="#f0ff14" points="713.5,327.5 719.8,326.2 724.8,328.7 736,325 743.5,327.5 743.5,352.4 733.5,353.7 728.5,346.2 716,347.4 714.8,337.5"/>
<polygon class="p" fill="#f0ff14" points="734.8,354.9 743.5,353.7 743.5,379.9 732.3,378.7 736,364.9"/>
<polygon class="p" fill="#f0ff14" points="721,394.9 729.8,393.6 743.5,394.9 743.5,433.6 699.8,443.6 702.3,437.4 707.3,429.9 709.8,422.4 714.8,414.9 719.8,407.4 722.3,402.4"/>
<polygon class="p" fill="#f0ff14" points="497.5,374.9 500,374.9 503.7,384.9 510,389.9 516.2,392.4 513.7,401.1 520,407.4 522.5,411.1 553.7,406.9 559.9,407.4 567.4,417.4 566.2,422.4 594.9,416.1 599.9,419.9 609.9,429.9 617.4,437.4 619.9,444.8 624.9,454.8 523.7,454.8 523.7,431.1 497.5,431.1"/>
<polygon class="n" fill="#ffffff" points="477.1,534.7 494.6,528 504.8,529.5 515,526.6 506.2,546.9 503.3,561.5 497.5,573.2 477.1,573.2"/>
<polygon class="n" fill="#f0ff14" points="506.2,455.7 523.7,455.2 525.2,466.8 526.6,466.8 531,485.8 531.6,494.5 517.9,497.4 509.1,512 506.2,520.7"/>
<polygon class="n" fill="#ffd200" points="507.7,431 523.7,431.9 523.7,455.2 507.7,455.7"/>
<polygon class="p" fill="#f0ff14" points="523.7,407.1 567.4,407.1 563,421.7 564.5,430.4 573.2,421.7 590.7,423.1 596.6,415.8 605.3,427.5 618.4,439.1 608.2,447.9 596.6,453.7 599.5,462.4 570.3,463.9 526.6,466.8 523.7,431.9"/>
<polygon class="p" fill="#f0ff14" points="526.6,466.8 557.2,465.4 558.7,482.8 560.1,487.2 564.5,491.6 573.2,497.4 574.7,512 573.2,522.2 551.4,517.8 549.9,517.8 541.2,512 532.4,520.7 531,485.8"/>
<polygon class="p" fill="#ffffff" points="504.8,528 509.1,512 517.9,497.4 531,494.5 532.4,520.7 523.7,525.1 515,526.6"/>
<polygon class="n" fill="#6eff96" points="497.5,573.2 503.3,561.5 506.2,546.9 515,526.6 523.7,532.4 538.3,535.3 541.2,546.9 554.3,546.9 557.2,555.7 554.3,573.2"/>
<polygon class="p" fill="#f0ff14" points="645.8,452.5 694.9,446.7 714.9,444.2 762.3,438 762.3,471.6 733.2,479.1 716.6,481.6 698.2,483.6 683.3,485.3 645,490 645.8,480 644.1,470 645,461.6"/>
<polygon class="p" fill="#f0ff14" points="701.4,442.1 713.1,427.5 721.8,415.8 727.7,407.1 764.1,407.1 764.1,437.7 714.6,445"/>
<polygon class="p" fill="#ffffff" points="632.5,493.3 650.8,491.6 650.8,513.3 630.8,514.1 630,503.3"/>
<polygon class="p" fill="#ff8c00" points="846.1,213.8 864.9,207.5 876.2,205 877.5,259.9 876.8,286.2 879.3,294.9 909.9,291.2 909.9,308.6 835,308.6 814.9,318.6 814.9,314.9 812.4,311.2 809.3,307.4 807.4,298.7 826.2,292.4 826.8,288.7 829.3,284.9 828,279.9 827.4,274.9 831.2,272.4 831.8,268.7 829.3,263.1 829.3,255 827.4,248.7 829.3,243.7 829.9,238.1 848,220.6"/>
<polygon class="p" fill="#ffd200" points="846.1,214.4 848,220.6 829.9,238.1 829.3,243.7 827.4,248.7 829.3,255 829.3,263.1 831.8,268.7 831.2,272.4 827.4,274.9 828,279.9 829.3,284.9 826.8,288.7 826.2,292.4 807.4,298.7 783.1,301.8 770.6,304.9 758.7,309.9 747.5,314.9 740,312.4 765,289.9 775,269.9 809.9,260 814.9,237.5 829.9,220"/>
<polygon class="p" fill="#ff5000" points="858.7,211.9 866.2,210 868.7,221.2 872.5,233.7 875,243.7 876.8,259.9 875,259.9 872.5,248.7 870,245 866.8,241.2 865.6,232.5 862.5,221.2"/>
<polygon class="p" fill="#ff5000" points="866.2,210 887.4,205 887.2,203 887.2,196.8 892.8,192.4 899.7,172.5 899.1,157.5 904.1,135 923.4,132.5 930.9,137.5 940.9,168.1 948.4,167.5 960.9,182.4 940.9,204.9 918.4,224.9 934.9,212.5 914.9,236.2 922.4,250 938.6,264.9 938.6,272.4 924.9,282.4 913.7,274.9 908.7,284.9 893.7,290.5 881.8,299.9 878.7,300.5 879.3,294.9 876.8,286.2 875.6,277.4 875.6,260.6 876.8,259.9 875,243.7 872.5,233.7 868.7,221.2"/>
<polygon class="p" fill="#ff0a00" points="940.3,168.1 945.9,168.1 947.8,172.5 948.4,176.8 952.8,176.2 955.9,178.7 947.1,186.2 935.9,196.2 928.4,204.9 927.4,205 916.2,218.7 912.4,226.2 907.4,235 899.9,216.2 908.7,205 908.4,202.4 918.4,189.9 928.4,178.7"/>
<polygon class="p" fill="#ff0a00" points="899.9,216.2 907.4,235 913,242.5 913,247.5 909.9,250 911.2,255 911.8,262.4 913,267.4 911.8,273.1 913,282.4 908.7,284.9 903.1,271.2 886.2,275.6 885,259.9 877.5,259.9 876.2,248.7 876.2,245.6 879.3,245 881.8,237.5 883.1,233.1 885,233.7 888.7,235 891.8,238.7 894.9,237.5 894.3,232.5 894.9,226.2 897.4,221.2"/>
<polygon class="n" fill="#f0ff14" points="741.1,318.1 741.1,322.8 750.6,314.3 759,308.7 762.8,327.5 765.6,342.4 770.3,359.3 812.4,350.9 849.9,342.4 853.6,344.3 879.8,364.9 883.6,432.3 879.8,458.6 741.1,458.6"/>
<polygon class="p" fill="#ffd200" points="759,308.7 763.7,306.9 770.3,305 781.5,301.6 807.7,298.4 826.1,292.4 842.4,289.3 847.4,291.1 851.2,294.9 854.9,298.1 861.1,299.4 879.8,300.3 879.8,318.1 878,346.2 870.5,354.6 861.1,349 856.4,344.3 852.7,343.4 849.9,342.4 812.4,350.9 770.3,359.3 765.6,342.4 762.8,327.5"/>
<polygon class="p" fill="#f0ff14" points="813.3,339.1 827.4,335.9 834.9,338.7 842.4,341.5 849.9,342.4 812.4,350.9 814.3,344.3"/>
<polygon class="p" fill="#ff8c00" points="834,306.9 842.4,297.5 843.1,290 847.4,291.1 851.2,294.9 854.9,298.1 861.1,299.4 872.5,301.2 883.6,299.4 874.2,316.2 870.5,319 864.9,324.7 861.1,321.8 857.4,308.7 854.6,310.6 849.9,314.3 844.3,310.6 842.4,314.3 836.8,315.3"/>
<polygon class="p" fill="#ffd200" points="852.7,343.4 855.5,346.2 859.2,351.8 864.9,356.5 869.5,361.2 871.4,365.9 869.5,372.4 867.7,378 866.7,387.4 863.9,398.6 862,396.8 861.1,387.4 859.2,379.9 857.4,374.3 853.6,370.5 857.4,368.7 854.6,355.6 853.6,344.3"/>
<polygon class="p" fill="#ffd200" points="760.9,373.3 767.5,364.9 773.1,362.1 780.6,359.3 782.4,364.9 784.3,370.5 780.6,376.2 775,381.8 770.3,388.3 765.6,384.6 760.9,379.9"/>
<polygon class="p" fill="#ffd200" points="788.1,357.4 794.6,355.6 795.6,360.2 804.9,354.6 812.4,352.7 818,355.6 819.9,361.2 814.3,359.3 808.7,359.3 807.7,364.9 804.9,370.5 801.2,374.3 797.4,383.7 793.7,382.7 794.6,372.4 796.5,364.9 791.8,364 789.9,366.8"/>
<polygon class="p" fill="#ffd200" points="827.4,375.2 834.9,372.4 840.5,379 846.1,381.8 851.7,385.5 854.6,391.1 858.3,402.4 864.9,408 867.7,413.6 833,420.2 834.9,406.1 837.7,398.6 835.8,383.7 829.3,379.9"/>
<polygon class="n" fill="#ffffff" points="741.1,378.4 743.1,378.8 749.7,379.9 745,383.7 744,394.9 741.1,392.6"/>
<polygon class="n" fill="#f0ff14" points="692.5,445.3 700,444.3 761.8,435.9 782.4,432.2 831.1,422.8 855.5,420 887.3,420 887.3,483.7 832,483.7 808.6,468.7 784.3,470.6 780.5,465.9 774.9,466.8 761.8,468.7 745,473.4 733.7,478.4 736.5,485.6 742.1,494.9 745,502.4 743.1,504.3 731.8,508 734.7,515.5 732.8,524.9 736.5,532.4 739.3,539.9 730,544.6 718.7,543.6 717.8,539.9 707.5,539.9 700,541.7 692.5,541.7"/>
<polygon class="p" fill="#ffd200" points="715,444.3 761.8,435.9 758.1,445.3 752.4,448.1 745,451.8 739.3,460.3 731.8,465 724.3,470.6 720.6,474.3 721.5,479.9 698.1,482.9 698.1,475.3 705.6,465 713.1,457.5"/>
<polygon class="p" fill="#ffd200" points="783.3,432.2 831.1,422.8 829.2,436.9 825.5,438.7 819.9,436.9 816.1,439.7 804.9,442.5 793.7,444.3 786.2,442.5"/>
<polygon class="p" fill="#ffffff" points="733.7,478.4 745,473.4 761.8,468.7 774.9,466.8 780.5,465.9 784.3,470.6 808.6,468.7 832,483.7 834.9,498.7 819.9,517.4 797.4,539.9 793.7,534.3 789.9,532.4 782.4,535.2 778.7,533.3 768.4,534.3 767.4,543.6 758.1,541.7 753.4,545.5 748.7,541.7 745,543.6 739.3,539.9 736.5,532.4 732.8,524.9 734.7,515.5 731.8,508 743.1,504.3 745,502.4 742.1,494.9 736.5,485.6"/>
<polygon class="n" fill="#ffffff" points="733.2,480 736.5,488.3 743.2,496.6 745.7,503.3 738.2,506.6 731.5,509.9 733.2,519.9 738.2,538.2 731.5,544.1 719,544.9 719.9,563.2 741.5,563.2 739,541.6 741.5,539.9 746.5,543.2 753.2,543.2 762.3,539.9 762.3,471.6"/>
<polygon class="p" fill="#f0ff14" points="741.2,483.7 756.2,473.4 774.9,467.8 776.8,479.9 772.1,487.4 763.7,484.6 754.3,491.2 745.9,484.6"/>
<polygon class="p" fill="#6eff96" points="777.7,511.8 782.4,502.4 788,505.2 793.7,509 802.1,504.3 807.7,500.5 812.4,500.5 822.7,504.3 831.1,506.2 804.9,539.9 797.4,535.2 793.7,534.3 789.9,526.8 784.3,517.4"/>
<polygon class="p" fill="#6eff96" points="739.3,539.9 745,543.6 748.7,541.7 753.4,545.5 758.1,541.7 767.4,543.6 768.4,534.3 778.7,533.3 782.4,535.2 789.9,532.4 793.7,534.3 797.4,535.2 804.9,539.9 797.4,575.5 743.1,575.5 740.3,554.9"/>
<polygon class="p" fill="#ffffff" points="718.7,544.6 730,544.6 739.3,539.9 740.3,554.9 743.1,575.5 719.7,575.5"/>
<polygon class="n" fill="#6eff96" points="739,541.6 741.5,539.9 746.5,543.2 753.2,543.2 762.3,539.9 762.3,563.2 741.5,563.2"/>
<polyline class="l" points="83.7,139.9 83.1,147 82.2,152 81.4,158.2 81.4,164.5 83.7,165.7 83.1,174.4 80,190.1"/>
<polyline class="l" points="55.6,152.6 58.7,159.5 60.6,165.7 56.8,174.4 53.7,181.9 53.1,189.4 54.4,198.2"/>
<polyline class="l" points="61.8,155.7 66.2,163.2 71.2,170.7 67.5,176.9 61.2,181.9 60,186.3 63.7,187.6 71.2,183.8 78.7,178.2 81.2,172 81.8,165.7"/>
<polyline class="l" points="103.7,179.4 117.4,182.6 126.2,184.4 129.9,190.1 141.1,196.9"/>
<polyline class="l" points="144.9,185.7 141.1,196.9 137.4,206.9 131.1,214.4 133.6,221.9"/>
<polyline class="l" points="140,182.7 145,186.2 140,202.4"/>
<polyline class="l" points="42.5,194.4 47.5,196.9 53.1,199.7 51.2,210 58.1,210 58.7,213.7 66.2,216.2 69.9,217.5 73.7,220 83.7,220 87.4,218.7 97.4,220 108.6,218.7 120,219.4 120,222.5 132.5,222.5 152.4,225.6"/>
<polyline class="l" points="163.1,156 158.1,191.2 156.2,201.2 152.5,223.7"/>
<polyline class="l" stroke-width="2.2" points="67.5,157 71.2,159.5 69.3,163.2 73.1,165.1 70.6,168.2 72.5,171.3 68.1,173.8 71.2,175.7 66.2,178.2"/>
<polyline class="l" stroke-width="2" points="76.8,148.8 78.1,151.3 76.5,153.2"/>
<polyline class="l" stroke-width="2" points="77.2,156.3 78.5,158.2 77.2,160.1"/>
<polyline class="l" stroke-width="1.6" points="45,176.9 48.7,179.4 45.6,183.2 47.5,186.9 45,190.1 48.7,192.6 44.4,195.7"/>
<polyline class="l" points="51.2,210 45,213.7 44.3,221.2 43.7,226.2 40,230.6 37.5,237.5 33.7,242.5 33.7,248.7 35.6,253.1 35,257.5 30.6,262.4 28.1,268.7 26.2,274.9 23.7,279.9 20,282.4 21.9,284.9 21.2,291.2"/>
<polyline class="l" points="69.9,217.5 73.7,220 74.3,225 72.4,228.7 71.2,233.7 68.1,236.8 66.2,243.7 65.6,252.5 63.7,256.2"/>
<polyline class="l" points="35,257.5 41.8,259.3 49.3,260 58.1,263.1"/>
<polyline class="l" points="51.2,279.9 46.8,297.4"/>
<polyline class="l" points="123.1,266.8 114.4,312.4"/>
<polyline class="l" points="13.75,291.25 46.9,297.5 75,303.75 100,310 114.4,312.5 134.4,316.9"/>
<polyline class="l" points="153.7,214.3 162.5,213.7 165,214.9 171.2,222.4 175,226.2 173.1,226.4 170,223.7 165,218.1 161.2,216.8 157.5,218.1 155.6,221.2 153.7,223.1"/>
<polyline class="l" points="153.7,224.9 158.7,226.2 163.1,229.9"/>
<polyline class="l" points="140.6,284.9 146.2,292.4 153.7,298.7 162.4,303 168.1,303.7 174.9,312.4 184.9,318.7 187.4,319.9"/>
<polyline class="l" points="168.1,296.2 169.3,298 168.1,303.7"/>
<polyline class="l" points="199.9,241.9 206.1,237.5 209.9,238.7 214.9,235 220,232.5"/>
<polyline class="l" points="200.5,245 202.4,250 204.9,256.2 206.1,261.2 209.9,263.7 210.5,270 213.6,272.4"/>
<polyline class="l" points="299.9,233.6 311.2,234.9 313.7,249.9 314.9,264.9 322.4,266.1 322.4,269.9"/>
<polyline class="l" points="213.75,272.5 221,271 229,271.3 236,271 238.5,269 240.5,271.5 241.9,274.5"/>
<polyline class="l" points="416.1,219.9 424.8,219.9 427.3,236.1"/>
<polyline class="l" points="451,210.4 474.8,209.9"/>
<polyline class="l" points="450.3,235.4 477.3,234.9"/>
<polyline class="l" points="427.3,236.1 450.3,235.4"/>
<polyline class="l" points="360.6,251.1 394.8,251.1 427.8,251.1 480,251.1"/>
<polyline class="l" points="469.8,179.9 471,194.9 474.8,209.9 477.3,234.9 480,244.9"/>
<polyline class="l" points="362.9,179.2 361.6,216.2 360.6,251.1 359.4,271.6 358.7,272 358.1,318.2 356.2,361.9"/>
<polyline class="l" points="327.5,302 336.2,298.2 343.1,295.7 345,292 352.4,292.6 358.1,293.8"/>
<polyline class="l" points="243.1,276.4 246.2,277 248.7,274.5 251.2,278.2 255,282.6 259.9,284.5 262.4,288.2 256.8,290.7 256.2,295.7 259.9,302 255,302 253.1,306.3 245,309.5 243.1,319.4 238.1,320.7"/>
<polyline class="l" points="301.2,268.9 298,273.2 299.9,275.7 304.9,280.7 307.4,289.5 306.8,298.2 303.7,304.5"/>
<polyline class="l" points="298.7,318.2 304.9,317.6 313.6,316.9 317.4,318.2 323,316.9 307.5,317.6 312.5,316.9 315,318.2 318.7,319.4 323.1,318.2"/>
<polyline class="l" points="359.7,282 364.9,283.9"/>
<polyline class="l" points="213.7,274.5 223.7,275.1 235,278.9 233.1,283.9 228.7,290.7 223.7,299.5 217.5,307 211.2,313.2 205,316.9 197.5,318.75"/>
<polyline class="l" points="220,232.5 223.7,228.7 228,225.5"/>
<polyline class="l" points="533.1,185.6 534.9,221.8"/>
<polyline class="l" points="502.7,229.3 504.3,259.9"/>
<polyline class="l" points="515.6,228.1 516.2,238.7 516.8,242.4 524.9,243 526.8,256.2 531.2,257.4 531.2,259.9 526.8,256.2 531.2,257.5 531.2,266.2 528.7,267.5 528.1,272.5 531.2,273.7 533.7,275 536.2,275.6"/>
<polyline class="l" points="502.5,278.7 507.5,281.8 510.6,283.7 526.2,283.1 526.8,281.2 536.2,280.6"/>
<polyline class="l" points="511.2,305.6 541.2,303.9"/>
<polyline class="l" points="549.9,228.1 549.3,234.9 549.9,242.4 543.7,247.4 542.4,252.4 541.2,254.9 543.7,259.9 541.8,252.5 543.1,256.2 544.9,258.7 544.3,264.4 544.9,275"/>
<polyline class="l" points="485.6,307.1 517.5,306.2 541.2,303.9 572.6,301.4"/>
<polyline class="l" points="480.6,245 481.9,251.2 480.6,255 476.9,259.4 479.4,262.5 483.7,265 484.4,273.7 485,280.6 485.6,307.4"/>
<polyline class="l" points="599.9,296.8 601.2,301.2 598.7,306.2 598.7,321.2"/>
<polyline class="l" points="544.3,264.4 561.8,263.7 562.4,271.2 574.9,270.6 576.1,276.2 578.6,280 586.1,279.3 586.1,273.1 590,272.5"/>
<polyline class="l" points="587.4,272.5 589.3,296.8"/>
<polyline class="l" points="612.4,272.5 611.2,280 612.4,295"/>
<polyline class="l" points="621.2,295 629.9,295.6"/>
<polyline class="l" points="586.8,273 588.7,294.9"/>
<polyline class="l" points="614.3,269.9 613.7,274.9 611.2,279.9 612.4,294.9"/>
<polyline class="l" points="550,228.1 550.6,242.5 545,246.2"/>
<polyline class="l" points="571.8,225.6 571.2,228.1 571.8,243.1 575.6,243.7 577.5,257.4 575,258.7 576.2,270.5"/>
<polyline class="l" points="580.6,228.1 585,233.7 603.7,238.1 617.4,238.7 619.9,242.5 623,243.1 624.9,249.9 627.4,251.8 628,256.2"/>
<polyline class="l" points="603.7,238.1 603.1,249.9 598.7,252.4 599.3,258.7 602.4,259.9 603.7,269.9"/>
<polyline class="l" points="629.9,225 630.5,232.5 632.4,238.7 633.7,243.1"/>
<polyline class="l" points="675,236.8 678.1,271.8"/>
<polyline class="l" points="652.5,275.5 668.1,274.3 678.1,272.4 698.1,268.9"/>
<polyline class="l" points="689.3,294.3 696.8,292.4 704.9,289.9 708,286.8 711.2,289.9 719.9,288.7"/>
<polyline class="l" points="656.8,300 663.7,298.7 666.8,295.6 674.3,294.4 675,305 672.5,306.2 673.1,314.3 676.8,315.6 677.5,322.5 671.2,323.7 670.6,330"/>
<polyline class="l" points="675.6,296.9 688.7,294.4 696.8,293.1 697.4,301.2 694.9,302.5 696.2,317.5 693.7,320 694.3,326.2"/>
<polyline class="l" points="696.8,291.9 704.9,288.7 708,287.5 711.2,290 718.7,288.7"/>
<polyline class="l" points="654.4,331.2 670.6,330 694.3,326.2 709.9,323.7 711.8,324.3"/>
<polyline class="l" points="520,327 552.4,325 553.7,331.2 557.4,331.2 558.7,347.4 525,349.9"/>
<polyline class="l" points="557.4,331.2 586.2,328.7 591.2,331.2 594.9,337.5 592.4,343.7 586.2,347.4 579.9,352.4 582.4,356.2"/>
<polyline class="l" points="558.7,347.9 574.9,349.9 579.9,352.4"/>
<polyline class="l" points="548.7,349.9 558.7,347.9"/>
<polyline class="l" points="616.1,320 616.1,322.5 617.4,338.7 613.6,341.2 614.9,349.9"/>
<polyline class="l" points="500,353.7 523.7,351.2"/>
<polyline class="l" points="522.5,352.4 522.5,372.4"/>
<polyline class="l" points="500,373.7 553.7,371.2 572.4,368.7 576.2,372.4"/>
<polyline class="l" points="586.2,321.2 599.9,322 616.1,320"/>
<polyline class="l" points="576.2,372.4 578.7,386.2 582.4,388.7 589.9,399.9 594.9,409.9 599.9,414.9 609.9,412.4 617.4,424.9 622.4,437.4 624.9,443.6 629.9,439.9 636.1,443.6"/>
<polyline class="l" points="599.9,353.7 601.1,372.4 596.2,379.9 586.2,386.2 578.7,386.2"/>
<polyline class="l" points="601.1,372.4 609.9,374.9 617.4,383.7 621.1,386.2 624.9,381.2 644.9,377.4"/>
<polyline class="l" points="617.4,351.2 619.9,357.4 627.4,363.7 628.6,372.4 624.9,381.2"/>
<polyline class="l" points="618.6,412.4 619.9,386.2"/>
<polyline class="l" points="599.9,414.9 601.1,409.9 618.6,412.4 629.9,409.9 646.1,408.6"/>
<polyline class="l" points="622.4,437.4 623.6,419.9 629.9,417.4 629.9,409.9"/>
<polyline class="l" points="644.9,336.2 646.1,362.4 647.4,389.9 649.9,397.4 644.9,409.9 647.4,419.9 643.6,424.9 636.1,443.6"/>
<polyline class="l" points="616.1,320 631.1,318.7"/>
<polyline class="l" points="686.1,389.9 692.3,379.9"/>
<polyline class="l" points="713.5,327.5 716,362.4 718.5,377.4 719.8,393.6 721,394.9"/>
<polyline class="l" points="658.6,332.5 659.8,361.2 646.1,362.4"/>
<polyline class="l" points="673.6,330 674.8,357.4 669.8,358.7 659.8,361.2"/>
<polyline class="l" points="688.6,327.5 691.1,356.2"/>
<polyline class="l" points="691.1,351.2 707.3,349.9 713.5,346.2"/>
<polyline class="l" points="674.8,357.4 679.8,362.4"/>
<polyline class="l" points="692.3,369.9 714.8,368.7"/>
<polyline class="l" points="647.4,389.9 663.6,389.9"/>
<polyline class="l" points="659.8,361.2 662.3,387.4"/>
<polyline class="l" points="721,394.9 707.3,389.9 702.3,387.4 696.1,389.9 696.1,394.9 687.3,399.9 684.8,407.4 681.1,414.9 672.3,416.1 667.3,419.9 659.8,422.4 649.9,424.9 642.4,429.9 636.1,443.6"/>
<polyline class="l" points="687.3,399.9 692.3,412.4 699.8,417.4 704.8,426.1 708.5,429.9"/>
<polyline class="l" points="667.3,419.9 666.1,429.9 669.8,439.9 674.8,444.8 699.8,443.6"/>
<polyline class="l" points="728.5,340 740,336.2"/>
<polyline class="l" points="727.3,340 728.5,346.2"/>
<polyline class="l" points="716,362.4 722.3,364.9 732.3,362.4 736,364.9"/>
<polyline class="l" points="718.5,377.4 732.3,378.7"/>
<polyline class="l" points="719.8,393.6 729.8,393.6"/>
<polyline class="l" points="552.4,371.9 553.7,389.9 558.7,399.9 553.7,406.9"/>
<polyline class="l" points="558.7,399.9 567.4,394.9 576.2,384.9 578.7,386.2"/>
<polyline class="l" points="582.4,388.7 592.4,407.4 594.9,416.1"/>
<polyline class="l" points="592.4,407.4 601.1,409.9"/>
<polyline class="l" points="788.1,283.7 796.8,280.6 798.1,276.8 803.7,276.2 804.9,273.7 811.8,272.4 817.4,270.6 821.8,265.6 829.3,263.7"/>
<polyline class="l" points="781.8,293 790.6,289.9 788.7,284.9 788.1,283.7"/>
<polyline class="l" points="790.6,289.9 801.8,288.1 803.1,289.9 803.7,286.2 811.8,284.9 814.9,289.9 819.9,288.7 826.2,287.4"/>
<polyline class="l" points="781.8,293 783.1,301.8"/>
<polyline class="l" points="829.9,255.6 839.9,255 849.9,256.2 858,256.8 845,255 853.7,256.2 858.7,257.4"/>
<polyline class="l" points="829.3,263.7 834.9,265 839.9,268.1 847.4,266.8 852.4,265 860,266.2 841.2,267.4 847.5,266.2 855,266.2 860.6,263.7"/>
<polyline class="l" points="846.2,215.6 848.7,221.2 853.7,230 858.1,238.7 860.6,247.5 861.2,250.6 857.5,252.5 858.7,257.4 860.6,263.7 863.1,273.7 865.6,281.2 866.2,288.7 863.7,294.9 861.2,299.3"/>
<polyline class="l" points="857.5,252.5 861.2,250.6 868.7,246.8 870,245"/>
<polyline class="l" points="875,259.9 875,277.4 876.8,286.2 879.3,294.9 878.7,299.9"/>
<polyline class="l" points="883.1,233.1 884.3,242.5 885.6,255 886.2,258.7 907.4,252.5 909.9,250"/>
<polyline class="l" points="886.2,258.7 877.5,259.9"/>
<polyline class="l" points="903.1,271.2 909.9,268.7 913,267.4"/>
<polyline class="l" points="892.8,194.3 900.9,217.4 903.4,224.9 899.9,216.2"/>
<polyline class="l" points="887.2,196.8 888.5,199.9 887.8,207.4 889.7,212.4 888.5,216.2 884.7,221.2 884.1,224.9 889.3,212.5 887.4,216.2 885,221.2 884.3,231.8 883.1,233.1"/>
<polyline class="l" points="866.2,210 868.7,221.2 872.5,233.7 875,243.7 876.2,248.7 877.5,259.9"/>
<polyline class="l" points="875.6,260.6 884.3,259.3 886.2,275.6 875.6,277.4"/>
<polyline class="l" points="875.6,260.6 875.6,277.4"/>
<polyline class="l" points="886.2,275.6 886.8,284.9 885,288.7 881.2,290.5 878.1,287.4"/>
<polyline class="l" points="889.9,291.8 902.4,286.2 908.7,285.5"/>
<polyline class="l" points="903.1,271.2 908.7,284.9"/>
<polyline class="l" points="913,247.5 909.9,250"/>
<polyline class="l" points="907.4,235 913,241.2"/>
<polyline class="l" points="867.2,209.3 870.3,224.9"/>
<polyline class="l" points="896.2,205 899.9,216.2"/>
<polyline class="l" points="770.6,304.9 783.1,301.8 807.4,298.7 826.2,292.4 842.4,289.3"/>
<polyline class="l" points="857.4,368.7 870.5,365.9"/>
<polyline class="l" points="859.2,373.3 869.5,371.5"/>
<polyline class="l" points="875.2,317.2 874.2,327.5 871.4,346.2 869.5,349.9"/>
<polyline class="l" points="857.4,335 864.9,327.5 870.5,319 874.2,316.2 872.3,308.7 874.2,301.2 872.3,295.6"/>
<polyline class="l" points="852.7,343.4 853.6,338.7 857.4,335"/>
<polyline class="l" points="770.3,305 781.5,301.2 783.4,291.9"/>
<polyline class="l" points="807.7,298.4 810.5,308.7 791.8,311.5 786.2,314.3 787.1,318.1 791.8,320.9 791.8,327.5 794.6,342.4 791.8,343.4 799.3,352.7"/>
<polyline class="l" points="762.8,327.5 784.3,324.7 791.8,327.5"/>
<polyline class="l" points="810.5,308.7 821.8,305.9 827.4,309.7 834,306.9"/>
<polyline class="l" points="791.8,327.5 793.7,330.3 812.4,328.4 818,320.9 819.9,314.3 810.5,308.7"/>
<polyline class="l" points="812.4,328.4 813.3,337.8 814.3,344.3 812.4,350.9"/>
<polyline class="l" points="813.3,337.8 827.4,335.9 832.1,327.5 842.4,322.8 851.7,324.7 855.5,320 864.9,324.7"/>
<polyline class="l" points="832.1,327.5 831.1,324.7 836.8,321.8 836.8,315.3"/>
<polyline class="l" points="741.2,378 749.7,379.9 745,383.7 744,394.9"/>
<polyline class="l" points="759,308.7 762.8,327.5 765.6,342.4 770.3,359.3 767.5,364.9 761.8,370.5 760,376.2 752.5,378 748.7,381.8 745,379.9"/>
<polyline class="l" points="730,336.8 745,335 745.9,349.9 744,351.8 738.4,353.7"/>
<polyline class="l" points="745,335 761.8,328.4"/>
<polyline class="l" points="745.9,349.9 765.6,346.2"/>
<polyline class="l" points="730,439.8 782.4,431.4 831.1,422 867.7,413.6"/>
<polyline class="l" points="808.7,359.3 813.3,363 819.9,361.2 823.7,359.3 827.4,363 834,364.9 834.9,372.4"/>
<polyline class="l" points="807.7,364.9 810.5,379.9 808.7,385.5 818,387.4 823.7,383.7 827.4,375.2"/>
<polyline class="l" points="808.7,385.5 806.8,394.9 804.9,402.4 808.7,406.1 814.3,413.6 816.2,424.9"/>
<polyline class="l" points="797.4,383.7 791.8,394.9 789.9,406.1 786.2,411.7 784.3,421.1 782.4,431.4"/>
<polyline class="l" points="793.7,382.7 789.9,387.4 786.2,396.8 784.3,402.4 778.7,404.3 775,411.7 765.6,413.6 761.8,409.9 754.3,414.6 750.6,413.6 739.4,398.6 744,394.9"/>
<polyline class="l" points="750.6,413.6 741.2,424.9 733.7,438"/>
<polyline class="l" points="770.3,388.3 763.7,394.9 760,402.4 760.9,408"/>
<polyline class="l" points="775,381.8 780.6,383.7 786.2,379.9 793.7,382.7"/>
<polyline class="l" points="780.6,359.3 788.1,357.4"/>
<polyline class="l" points="770.3,359.3 812.4,350.9 849.9,342.4"/>
<polyline class="l" points="812.4,352.7 812.4,350.9"/>
<polyline class="l" stroke-width="2" points="834.9,372.4 840.5,379 846.1,381.8 851.7,385.5"/>
<polyline class="l" stroke-width="2" points="842.4,387.4 849.9,393 855.5,396.8"/>
<polyline class="l" stroke-width="2" points="840.5,401.4 851.7,404.3 859.2,406.1"/>
<polyline class="l" stroke-width="2" points="854.6,423 864.9,421.1 868.6,424.9"/>
<polyline class="l" stroke-width="2" points="857.4,428.6 868.6,429.5 874.2,428.6"/>
<polyline class="l" points="739.3,539.9 730,544.6 718.7,543.6 717.8,539.9 707.5,539.9 700,541.7"/>
<polyline class="l" points="742.1,480.9 756.2,472.4 761.8,469.6"/>
<polyline class="l" points="767.4,543.6 765.6,554.9 769.3,564.2 771.2,569.8"/>
<polyline class="l" points="784.3,470.6 791.8,474.3 797.4,479.9 793.7,487.4 788,485.6 780.5,487.4 776.8,479.9"/>
<polyline class="l" points="797.4,479.9 801.1,481.8 806.8,489.3 807.7,500.5"/>
<polyline class="l" points="780.5,487.4 778.7,494.9 782.4,502.4"/>
<polyline class="l" points="754.3,491.2 758.1,494.9 763.7,501.5 771.2,506.2 777.7,511.8"/>
<polyline class="l" points="756.2,505.2 763.7,501.5"/>
<polyline class="l" points="756.2,505.2 759.9,513.7 764.6,524.9 761.8,530.5 768.4,534.3"/>
<polyline class="l" points="761.8,435.9 764.6,444.3 771.2,446.2 772.1,456.5"/>
<polyline class="l" points="772.1,445.3 784.3,443.4 793.7,444.3"/>
<polyline class="l" points="771.2,456.5 812.4,451.8 819.9,448.1 825.5,438.7"/>
<polyline class="l" points="768.4,459.3 769.3,465.9"/>
<polyline class="l" points="768.4,459.3 772.1,456.5"/>
<polyline class="l" points="812.4,451.8 809.6,465 808.6,468.7"/>
<polyline class="l" points="819.9,448.1 827.4,453.7 838.6,452.8 849.8,457.5 853.6,459.3"/>
<polyline class="l" points="829.2,436.9 842.3,438.7 855.5,435"/>
<polyline class="l" points="758.1,445.3 768.4,457.5"/>
<polyline class="l" stroke-width="2" points="855.5,438.7 868.6,436.9"/>
<polyline class="l" stroke-width="2" points="853.6,446.2 864.8,448.1"/>
<polyline class="l" stroke-width="2" points="859.2,427.5 868.6,429.4"/>
<polyline class="l" points="700,482.7 721.5,479.9 733.7,478.4"/>
<polyline class="l" points="715.9,481.8 717.8,502.4 718.7,508 723.4,513.7 726.2,509.9 731.8,508"/>
<polyline class="l" points="700,483.7 709.4,524.9 716.9,539.9"/>
<polyline class="l" points="700,541.7 707.5,540.8 709.4,551.1 705.6,555.8 700,553.9"/>
<polyline class="l" points="66.5,310 56.2,317.5 48.7,315.6 38.4,314.7 34.7,322.2 25.3,330.6 24.3,343.7 25.3,353.1 19.7,360.6 21.5,366.2 30,372.7 34.7,378.4 35.6,387.7"/>
<polyline class="l" points="35.6,387.7 37.5,386.8 43.1,380.2 48.7,375.6 56.2,375.6 61.8,377.4 67.4,378.4 70.2,381.2"/>
<polyline class="l" points="66.5,310 76.8,310 76.8,318.4"/>
<polyline class="l" points="41.2,460 47.5,457 52.5,458 57.5,461.2"/>
<polyline class="l" points="73.7,472 80,478.7 86.2,486.2 94.9,487.5 98.7,491.2 106.2,490 108.7,492.4 102.4,499.9 103.7,514.9 106.2,532.9"/>
<polyline class="l" points="116.2,440 149.9,481.2 151.1,490 154.9,498.7 157.4,502.4 149.9,504.9 146.1,512.4 144.9,518.7 141.1,522.4 143.6,529.9 144.9,534.9"/>
<polyline class="l" points="69.3,374.6 131.1,459.8"/>
<polyline class="l" points="83.3,310 69.3,374.6"/>
<polyline class="l" points="89.9,375.6 111.4,378.4"/>
<polyline class="l" points="89.9,375.6 87.1,379.3 87.1,388.7 80.5,389.6"/>
<polyline class="l" points="83.3,310 97.4,310.9 134.9,315.6 185.1,325"/>
<polyline class="l" points="185.1,325 173.1,401.8 168.9,434.6 164.8,459.8"/>
<polyline class="l" points="184.3,324.3 211.5,328.1 224.6,330 234.9,330.9"/>
<polyline class="l" points="168.4,434.9 169.4,438.6 186.2,440.5"/>
<polyline class="l" points="267.7,359 264.9,389.9 260.2,449.8"/>
<polyline class="l" points="193.6,443.7 189.8,457.5 177.4,463.7 174.9,475 179.9,477.5 189.8,485 192.3,488.7 201.1,491.2 203.6,496.2 204.8,506.2 209.8,506.2 217.3,509.9 218.6,516.2 231,518.7 232.3,528.7 242.3,524.9 251,523.7"/>
<polyline class="l" points="174.9,475 171.1,502.4 169.9,509.9 189.8,514.9 192.3,512.4 204.8,514.9 201.1,508.7 204.8,506.2"/>
<polyline class="l" points="169.9,509.9 164.9,542.4 197.3,547.4 219.8,549.9 221.1,536.2 223.6,529.9 231,527.4"/>
<polyline class="l" points="204.8,514.9 207.3,522.4 214.8,538.7 221.1,536.2"/>
<polyline class="l" points="162.4,552.9 164.9,542.4"/>
<polyline class="l" points="258.5,450 247.3,581.1"/>
<polyline class="l" points="167.5,442.3 189,441.4 209.6,444.2 260.2,449.8"/>
<polyline class="l" points="89.9,375.6 111.4,378.4"/>
<polyline class="l" points="89.9,375.6 87.1,379.3 87.1,388.7 80.5,389.6"/>
<polyline class="l" points="401.1,303.6 409.8,301.8 414.8,303.6 431.1,304.8 432.3,308.6 441.8,309.8"/>
<polyline class="l" points="442.3,274.1 441.8,319.8 443.3,300 443.3,319.7"/>
<polyline class="l" points="443.5,298.6 480,296.1"/>
<polyline class="l" points="400.8,300 408.7,301.9 419.9,302.8 432.1,304.7 433,309.4 442.4,309.4"/>
<polyline class="l" points="390.9,319.7 389.9,337.5 390.9,343.1 389.9,366.5"/>
<polyline class="l" points="390.9,357.7 421.8,357.1"/>
<polyline class="l" points="421.8,373 426.5,374 425.5,378.7 422.7,381.5 422.7,389"/>
<polyline class="l" points="454.6,371.2 455.1,388.4"/>
<polyline class="l" points="455.5,353.4 455.5,372.1"/>
<polyline class="l" points="433.6,389.9 433.6,406.8 389.9,408.6"/>
<polyline class="l" points="389,429.2 429.3,429.6 434,427.7 434.9,449.8"/>
<polyline class="l" points="480.8,407.1 483.6,416.1 484.5,431.1"/>
<polyline class="l" points="481.7,407.1 491.1,408.6 498.6,406.8 506.1,407.7 510,409"/>
<polyline class="l" points="478,430.5 478,449.8"/>
<polyline class="l" points="308,363.7 309.8,374 315.5,375.9 321.1,374 324.8,374.9 325.8,382.4 321.1,388 322,395.5 315.5,399.3 309.8,402.1 308.9,408.6 311.7,412.4 310.8,421.7 304.2,427.4 298.6,433 289.2,433.9 291.1,438.6 298.6,440.5 302.3,449.8"/>
<polyline class="l" points="386.2,367.4 382.4,370.2 375,371.2 372.1,374.9 370.3,384.3 368.4,391.8 365.6,397.4 360.9,402.1 358.1,403"/>
<polyline class="l" points="354.9,458 354.9,465 349.9,470 346.2,477.5 343.7,471.2 341.2,467.5 337.4,475 338.7,480 337.4,489.9"/>
<polyline class="l" points="291.2,488.7 288.7,497.4 283.7,502.4 286.2,509.9 285,517.4 288.7,524.9 285,532.4 277.5,539.9 275,547.4 271.2,552.4"/>
<polyline class="l" points="293.7,489.9 292.5,499.9 295,512.4 292.5,522.4 295,534.9 297.5,542.4 298.7,554.9 300,564.9"/>
<polyline class="l" points="323.7,492.4 329.9,504.9 326.2,507.4 324.9,519.9 321.2,529.9 323.7,539.9 322.4,549.9 323.7,559.9"/>
<polyline class="l" points="256,527.4 254.8,536.2 262.3,547.4 270,553.6"/>
<polyline class="l" points="426.1,470.5 426.8,482.4 426.1,492.4 426.8,512.4 432.3,517.4 439.8,518.7 444.8,523.7 454.8,526.2 462.3,527.4 469.8,529.9 477.3,528.7 482.3,532.4 489.8,529.9 497.3,531.1 504.8,528.7 510,524.9"/>
<polyline class="l" points="434.8,470 482.3,468.7 481,460 484.8,458.7"/>
<polyline class="l" points="482.3,468.7 482.3,476.2 498.5,480 497.3,484.9 510,486.2"/>
<polyline class="l" points="435.3,483.7 458.6,480 482.3,477.5"/>
<polyline class="l" points="458.6,480 459.8,493.7 453.6,493.7 452.3,503.7 429.8,504.4 426.8,504.9"/>
<polyline class="l" points="459.8,493.7 461.1,512.4 454.8,526.2"/>
<polyline class="l" points="461.1,512.4 469.8,513.7 471,509.9 484.8,508.7 489.8,507.4 494.8,509.9 504.8,512.4 506,514.9 504.8,528.7"/>
<polyline class="l" points="498.5,480 497.3,497.4 493.5,499.9 494.8,509.9"/>
<polyline class="l" points="426.1,492.4 414.9,492.9 414.4,502.4 404.9,502.9 406.1,519.9 404.9,543.6 394.9,544.4 392.4,553.6 392.4,562.4 401.1,563.6 401.1,573.6"/>
<polyline class="l" points="369.9,470 426.1,470.5"/>
<polyline class="l" points="369.9,470 367.4,537.4 366.2,572.9"/>
<polyline class="l" points="286.2,435 295,433.7 301.2,440 305,452.5"/>
<polyline class="l" points="270,451.2 296.2,453.7 329.9,456.2 369.9,458 434.8,458.7 478.5,458 510,456.2"/>
<polyline class="l" points="564.5,430.4 567.4,439.1 570.3,463.9"/>
<polyline class="l" points="523.7,439.1 538.3,439.1 541.2,434.8 564.5,430.4"/>
<polyline class="l" points="560.1,487.2 554.3,500.3 551.4,509.1 549.9,517.8"/>
<polyline class="l" points="497.5,570 503.3,561.5 506.2,546.9 515,526.6 523.7,532.4 538.3,535.3 541.2,546.9 554.3,546.9 557.2,555.7 554.3,570"/>
<polyline class="l" points="542.6,546.9 542.6,570"/>
<polyline class="l" points="526.6,466.8 608.2,461.9 608.2,472.6 616.9,471.2"/>
<polyline class="l" points="557.2,465.4 586.4,463.9 587.8,475.6 577.6,478.5 579.1,487.2 573.2,491.6 574.7,497.4"/>
<polyline class="l" points="587.8,475.6 608.2,472.6"/>
<polyline class="l" points="574.7,497.4 592.2,488.7 608.2,487.2 611.1,488.7"/>
<polyline class="l" points="574.7,512 582,513.4 592.2,520.7 596.6,520.7"/>
<polyline class="l" points="549.9,517.8 551.4,545.5 579.1,544 596.6,542.6"/>
<polyline class="l" points="579.1,544 580.5,570"/>
<polyline class="l" points="526.6,466.8 531,485.8 532.4,520.7 533.9,532.4 541.2,538.2 542.6,546.9"/>
<polyline class="l" stroke-width="1.8" points="616.9,439.1 624.2,450.8 619.9,459.5 616.9,471.2 615.5,479.9 611.1,488.7 608.2,497.4 605.3,506.2 600.9,512 596.6,520.7 595.1,529.5 596.6,538.2 599.5,546.9 598,555.7 600.9,564.4 599.5,570"/>
<polyline class="l" points="622.8,410 624.2,427.5 631.5,426 631.5,436.2 638.8,431.9 643.2,423.1 654.8,421.7 666.5,417.3 663.6,410"/>
<polyline class="l" points="666.5,417.3 669.4,427.5 666.5,437.7 673.8,446.4 695.6,445"/>
<polyline class="l" points="704.4,428.9 692.7,421.7 695.6,410"/>
<polyline class="l" points="701.4,442.1 713.1,427.5 721.8,415.8 727.7,410"/>
<polyline class="l" points="507.7,455.7 523.7,455.2 525.2,466.8"/>
<polyline class="l" points="512.1,479.9 528.1,477"/>
<polyline class="l" points="523.7,410 523.7,431.9 526.6,466.8"/>
<polyline class="l" points="507.7,431 523.7,431.9"/>
<polyline class="l" points="611.1,495.1 610.8,494.1 645,490 683.3,485.3 698.2,483.6 716.6,481.6 733.2,479.1 760,472.5"/>
<polyline class="l" points="625.7,458.1 645.8,452.5 694.9,446.7 714.9,444.2 760,438.3"/>
<polyline class="l" points="645.8,452.5 645,461.6 644.1,470 645.8,480 645,490"/>
<polyline class="l" points="694.9,446.7 692.4,454.2 684.9,460 686.6,468.3 682.4,473.3 683.3,485.3"/>
<polyline class="l" points="650.8,490 651.6,506.6 650.8,513.3 650.8,533.2 653.6,550"/>
<polyline class="l" points="698.2,483.6 699.9,491.6 704.1,506.6 711.6,526.6 716.6,539.9 719,544.9"/>
<polyline class="l" points="651.6,505.8 672.4,504.9 681.6,504.1 682.4,498.3 685.7,497.4 684.9,490 683.3,485.3"/>
<polyline class="l" points="672.4,504.9 673.3,513.3 675.8,518.3 671.6,525.7 677.4,529.9 683.3,523.3 684.9,515.8 693.2,508.3 697.4,501.6 699.1,491.6"/>
<polyline class="l" points="677.4,529.9 688.2,531.6 694.9,524.9 700.7,514.9 701.6,506.6"/>
<polyline class="l" points="704.1,506.6 716.6,507.4 719,513.3 726.5,509.9 731.5,509.9 733.2,519.9 738.2,538.2 731.5,544.1 719,544.9"/>
<polyline class="l" points="714.9,482.5 716.6,494.9 717.4,507.4"/>
<polyline class="l" points="630.8,514.1 634.1,518.3 635.8,523.3 633.3,539.9 634.1,549.9 650.8,548.2"/>
<polyline class="l" points="615.8,525.7 635.8,523.3"/>
<polyline class="l" points="733.2,480 736.5,488.3 743.2,496.6 745.7,503.3 738.2,506.6 731.5,509.9"/>
<polyline class="l" points="731.5,544.1 739,541.6 741.5,539.9 746.5,543.2 753.2,543.2 760,539.9"/>
<polyline class="l" points="739,541.6 741.5,560"/>
<polyline class="l" points="432.4,571.2 439.9,571.2 439.9,585 434.9,586.2 419.9,584.5 418.7,573.7 399.9,573.7 398.7,582.5 381.2,582 380,572.5 366.2,572.5 366.2,560"/>
<polyline class="l" points="509.8,614.9 504.8,613.7 506.1,622.4 502.3,626.2 494.8,634.9 489.8,642.4 483.6,646.2 484.8,656.2 492.3,657.4"/>
<polyline class="l" points="492.3,601.2 502.3,607.5 509.8,614.9 523.6,612.4 523.6,607.5 529.8,605 534.8,612.4 544.8,610 552.3,608.7"/>
<polyline class="l" points="466.1,606.2 461.1,617.4 454.9,623.7 444.9,628.7 437.4,629.4 436.9,641.2"/>
<polyline class="l" points="380,572.5 381.2,596.2 389.9,605 391.2,613.7 389.9,624.9"/>
<polyline class="l" points="412.4,641.2 436.9,641.2 447.4,641.9 448.6,637.9 457.4,642.4 463.6,652.4 467.4,662.4 467.4,669.9 464.9,677.4 464.9,686.1 473.6,683.6"/>
<polyline class="l" points="330,571.2 365,572.5 366.2,560"/>
<polyline class="l" stroke-width="2" points="472.4,682.4 479.9,681.1"/>
<polyline class="l" stroke-width="2" points="477.4,669.9 484.8,667.4"/>
<polyline class="l" stroke-width="2" points="484.8,662.4 492.3,658.7"/>
<polyline class="l" stroke-width="2" points="494.8,652.9 504.8,649.9 512.3,647.9"/>
<polyline class="l" points="542.3,560 543.5,572.5 549.8,582.5 553.5,595 552.3,608.7 551,619.9"/>
<polyline class="l" points="592.4,589.9 591.2,593.7 601.2,604.9 596.2,606.1 586.2,604.9"/>
<polyline class="l" points="555,547.5 578.7,545 596.2,543"/>
<polyline class="l" points="578.7,545 581.2,559.9 583.7,567.4 590,573.7"/>
<polyline class="l" points="558.7,569.9 565,574.9 566.2,579.9"/>
<polyline class="l" points="547.5,573.7 553.7,584.9 555,594.9 572.5,596.2"/>
<polyline class="l" points="555,594.9 551.2,604.9 550,622.4"/>
<polyline class="l" stroke-width="1.8" points="602.4,500 597.4,512.5 599.9,522.5 594.9,525 596.2,532.5 598.7,542.5 597.4,550 599.9,557.4 598.7,564.9 596.2,572.4 593.7,579.9"/>
<polyline class="l" points="614.9,556.2 617.4,564.9 626.2,563.7 627.4,559.9 634.9,561.2 636.2,582.4 638.7,587.4"/>
<polyline class="l" points="618.7,526.2 634.9,523.7 636.2,532.5 633.7,550 634.9,561.2"/>
<polyline class="l" points="631.2,513.7 634.9,512.5 634.9,523.7"/>
<polyline class="l" points="634.9,550 653.6,550"/>
<polyline class="l" points="651.1,500 653.6,550 656.1,584.9 657.4,596.2"/>
<polyline class="l" points="652.4,537.5 662.4,535 669.9,538.7 682.4,542.5 683.6,547.5 689.9,546.2"/>
<polyline class="l" points="652.4,553.7 659.9,554.9 661.1,559.9 669.9,556.2 684.9,556.2 704.8,552.4 709.8,548.7 709.8,541.2 689.9,546.2"/>
<polyline class="l" points="672.4,507.5 676.1,516.2 672.4,525 678.6,531.2 686.1,532.5 689.9,546.2"/>
<polyline class="l" points="702.3,507.5 692.3,525 686.1,532.5"/>
<polyline class="l" points="702.3,500 714.8,540 718.6,545 721.1,572.4 723.6,574.9"/>
<polyline class="l" points="656.1,584.9 664.9,579.9 667.4,577.4 671.1,582.4"/>
<polyline class="l" points="748.5,577.4 751,584.9 747.3,592.4"/>
<polyline class="l" points="748.5,577.4 774.8,573.7 780,572.9"/>
<polyline class="l" points="767.3,543.7 766,553.7 768.5,562.4 774.8,573.7"/>
<polyline class="l" points="724.8,579.9 748.5,577.4"/>
<polyline class="l" points="733.6,507.5 747.3,500 757.3,505 764.8,515 768.5,530 767.3,543.7"/>
<polyline class="l" points="779.4,630.7 792.9,623.9 802.4,621.2 817.4,617.1"/>
<polyline class="l" points="831,642.4 832.3,641.6"/>
<polyline class="l" points="740,577.7 748.1,576.4 780.7,573.7 780.7,577.7 783.4,577.7 783.4,568.2 792.9,567.4"/>
<polyline class="l" points="768.5,534.3 768.5,543.8 765.8,553.3 773.9,573.7"/>
</g>
<polygon class="l" points="44,143.9 50,147 57.5,151 63.7,153.2 67.5,154.2 71.8,154.7 74,159.5 73.1,164.5 70.6,171.3 66.8,176.9 68.5,178.4 73.1,175.1 76.2,165.1 78.5,159.5 77.8,154.5 76.2,148.8 77.5,143.2 76.5,138 87.4,140.5 107.4,145 128.6,150 163.1,156.6 178.1,159.4 209.4,164.4 240,167.6 277.5,172 313.7,176.2 362.4,179.2 403.6,180.4 433.6,180.7 469.8,180 480,179.3 470,179.4 500,178.1 500,169.4 505.6,169.4 507.5,178.7 508.1,183.1 512.5,183.7 521.2,185.6 523.1,187.5 527.4,186.8 529.3,185 534.9,185 539.9,186.8 542.4,190 545.5,192.5 548.7,190.6 552.4,193.1 557.4,195.6 561.2,195.6 564.9,193.1 568.7,191.2 570.5,193.7 577.4,193.1 582.4,194.3 587.4,194.3 581.1,198.7 574.9,201.8 569.9,206.2 566.2,211.2 562.4,216.2 557.4,221.2 553.7,224.9 549.9,228.1 557.5,227.5 565,223.7 570,221.2 572.5,221.8 571.8,225.6 571.2,228.1 575,228.1 580.6,228.1 586.2,223.1 592.5,220.6 597.4,218.1 601.2,213.7 605.6,210.6 608.1,213.7 609.9,219.4 613.1,216.9 614.9,216.2 619.9,216.9 623.7,219.4 627.4,223.1 629.9,225 634.9,224.3 639.9,223.1 644.9,219.4 646.2,219.4 652.5,216.9 657.5,216.2 660.6,213.7 665.6,212.5 665.6,218.7 668.7,220 672.5,218.7 676.8,217.5 678.7,220.6 680,224.4 683.1,226.2 685.6,228.7 680,229.3 674.3,230 673.1,233.1 671.2,232.5 667.5,230.6 662.5,229.3 658.1,231.2 655,233.7 650,235 646.2,237.5 643.7,241.2 643.1,243.7 641.2,243.1 640.6,238.7 638.7,238.7 637.5,241.2 635.6,241.8 635,237.5 633.7,241.2 632.5,242.5 633.7,243.1 631.2,249.9 628,256.2 627.4,261.2 624.9,266.2 623.7,269.9 626.2,268.7 629.9,264.3 632.4,263.1 634.3,264.9 633.7,269.9 632.4,276.2 633,282.4 631.8,288.7 631.2,294.9 631.2,280 630.6,292.5 631.9,305 633.7,317.5 636.2,327.5 639.4,333.7 641.2,336.2 645,336.8 650,334.3 654.4,331.2 656.8,325 659.3,316.2 659.3,308.7 657.5,301.2 653.7,293.7 650.6,288.7 651.2,283.7 650,280 650.6,288.7 651.9,283.7 650.6,279.9 652.5,275.5 653.1,269.9 652.5,263.7 655,259.9 658.7,254.9 660.6,250 662.2,256.2 663.5,259.9 664.3,253.7 666.2,247.5 670,244.3 671.2,241.2 668.1,240 668.7,236.8 673.1,235.6 675,236.8 680,236.8 686.2,239.3 692.4,241.2 696.8,243.1 699.3,248.1 698.1,249.3 700.6,254.9 701.2,263.7 698.1,268.1 697.4,271.8 693.7,274.3 694.9,279.9 698.1,281.8 701.2,278.7 703.7,273.7 708,269.3 711.8,269.9 714.9,273.7 717.4,281.2 719.9,288.7 722.4,294.9 721.8,292.5 721.8,300 718,301.2 716.2,306.2 713,310 712.4,317.5 711.2,323.7 711.8,324.3 717.4,327.5 722.4,328.1 727.4,328.7 736.1,324.3 742.4,320 750,315 750,314.9 752.5,313.7 758.7,309.9 763.7,306.2 769.3,301.2 772.5,297.4 776.2,292.4 778.7,288.1 781.8,284.9 780.6,278.7 776.8,277.4 777.5,273.7 783.7,269.9 790,268.7 794.9,268.1 801.2,268.1 807.4,266.2 813.7,264.3 816.2,261.2 818.7,258.7 821.8,256.2 821.2,251.2 818,249.3 819.9,245.6 815.5,245 818,241.8 821.8,238.1 822.4,235.6 824.9,230 829.9,223.7 836.2,218.7 846.1,215.6 858.7,211.9 866.2,210 887.4,205 887.2,203 887.2,196.8 891,194.9 892.8,192.4 895.3,194.3 896.6,189.9 895.9,186.2 898.4,183.7 899.1,177.4 899.7,172.5 898.4,166.2 899.1,157.5 900.9,150 902.8,142.5 904.1,136.9 907.8,136.9 909.1,140.6 912.2,141.2 915.9,138.1 919,134.4 923.4,135 929.7,138.1 933.4,148.7 937.2,158.7 940.3,168.1 945.9,168.1 947.8,172.5 948.4,176.8 952.8,176.2 955.9,178.7 959,182.4 957.8,184.9 955.9,187.4 953.4,189.9 950.9,193.7 947.1,197.4 943.4,198.7 940.9,202.4 938.4,203.7 935.9,201.2 933.4,199.9 932.8,204.9 931.5,212.4 928.4,214.9 924.7,217.4 920.9,219.9 918.4,223.7 932.4,212.5 927.4,215 922.4,220 918.7,225 916.2,230 914.9,236.2 913,241.2 913,247.5 916.2,248.7 920.5,251.2 916.8,253.1 916.2,257.4 919.9,259.9 923.7,262.4 926.2,266.8 931.2,267.4 934.9,266.2 933.7,261.8 930.9,260.6 933.7,259.9 936.8,266.2 936.8,271.2 932.4,273.1 929.9,276.8 926.2,279.9 924.3,279.9 922.4,276.2 919.9,277.4 916.8,278.7 914.9,274.9 912.4,273.7 913,282.4 908.7,284.9 902.4,286.2 893.7,290.5 886.2,295.5 881.8,299.9 880,301.8 885,301.2 891.2,298.4 897.4,295.9 902.4,293.4 908.7,290.9 906.8,294.3 902.4,296.8 897.4,299.9 892.4,303.7 889.9,304.9 883,306 880.5,302 879.8,301.6 878,318.1 878.9,327.5 877,336.8 874.2,346.2 870.5,354.6 869.5,349.9 864.9,349 861.1,349 859.2,346.2 855.5,344.3 855.5,346.2 859.2,351.8 864.9,356.5 869.5,361.2 871.4,365.9 869.5,372.4 867.7,378 866.7,387.4 863.9,398.6 862,396.8 861.1,387.4 859.2,379.9 857.4,374.3 853.6,370.5 851.7,366.8 849.9,359.3 851.7,353.7 852.7,349.9 849.9,346.2 847.1,346.2 844.3,351.8 844.3,357.4 846.1,364.9 848.9,370.5 851.7,378 849.9,379.9 844.3,378 838.6,377.1 840.5,379 846.1,381.8 851.7,385.5 854.6,391.1 849.9,389.3 849.9,393 855.5,396.8 858.3,402.4 853.6,402.4 851.7,404.3 859.2,406.1 864.9,408 867.7,413.6 872.3,419.2 878.9,426.7 875.1,429.4 870.4,435 864.8,438.7 869.5,448.1 864.8,453.7 859.2,452.8 853.6,459.3 849.8,465 845.2,474.3 844.2,479.9 832,483.7 827.4,491.2 824.6,498.7 822.7,504.3 818,511.8 812.4,517.4 804.9,524.9 801.1,532.4 797.4,535.2 795.7,542.4 792.9,553.3 792.9,564.2 795.7,572.3 801.1,583.2 806.5,594 813.3,604.9 821.5,613 821.5,618.5 826.9,626.6 833.7,637.5 839.1,647 842.6,656.5 843.7,670.1 842.6,680.9 844.5,689.1 840.5,693.1 833.7,694.5 826.9,695.9 822.8,691.8 818.7,686.4 812,679.6 806.5,672.8 801.1,664.6 797,659.2 794.3,656.5 790.2,653.8 784.8,645.6 783.4,640.2 779.4,638.8 779.4,632 778,621.2 775.3,610.3 772.3,609.9 762.3,602.4 754.8,596.2 747.3,592.4 739.8,594.9 729.8,602.4 721.1,603.6 718.6,598.7 709.8,593.7 699.8,589.9 689.9,593.7 682.4,592.4 676.1,596.2 669.9,598.7 664.9,598.7 657.4,596.2 647.4,598.7 638.7,601.1 633.7,604.9 627.4,604.9 622.4,603.6 618.7,607.4 624.9,609.9 629.9,606.1 633.7,608.6 639.9,609.9 636.2,614.9 632.4,619.9 638.7,623.6 642.4,629.9 648.6,631.1 647.4,626.1 639.9,627.4 632.4,626.1 626.2,629.9 627.4,623.6 622.4,628.6 612.4,631.1 603.7,629.9 602.4,624.9 590,622.4 585,624.9 575,623.6 562.5,621.1 570,621.2 559.8,620.4 549.8,622.4 537.3,627.4 529.8,632.4 523.6,639.9 512.3,648.7 502.3,652.4 492.3,657.4 486.1,664.9 482.3,672.4 479.9,679.9 478.6,689.9 479.9,699.9 486.1,712.3 486.1,712.3 479.9,717.3 472.4,713.6 462.4,709.9 454.9,707.4 444.9,704.9 437.4,689.9 434.9,677.4 426.2,667.4 416.2,649.9 412.4,641.2 402.4,631.2 394.9,625.4 380,623.7 371.2,626.2 367.5,634.9 361.2,643.7 355,639.9 345,632.4 333.7,623.7 330,613.7 327.5,605 315,592.5 307.5,585 300,577.5 295,570 296.2,571.1 295,573.6 270,572.9 264.8,573.6 263.5,582.9 247.3,581.1 207.3,576.9 162.4,552.9 137.4,539.9 144.9,534.9 106.2,532.9 93.7,531.9 91.2,527.4 92.4,522.4 88.7,512.4 83.7,504.9 75,498.7 75,493.7 67.5,491.2 60,483.7 50,477.5 37.5,472.5 37.5,463.7 41.2,460 36.2,453.7 30,445 37.5,459.8 34.7,452.3 30.9,444.9 27.2,435.5 23.4,428 22.5,420.5 26.2,417.7 25.3,411.1 20.6,405.5 18.7,398 19.7,392.4 18.7,387.2 12.7,384.9 14,382.1 12.2,375.6 8.4,368.1 4.7,359.6 7.5,349.3 5.6,338.1 1.9,328.7 2.8,321.2 8.4,310 10,311 12,302.3 13,296.2 13.75,292.5 13.1,290 12.5,282.5 14.4,275 13.75,268.75 17.5,265 20,258.75 23.1,253.75 26.9,246.25 30.6,235 33.75,226.25 37.5,217.5 40,210 41.9,202 43.1,197 42.5,194.4 43.75,189.4 44.4,182 45.6,177 45,172 44.75,163.2 43.75,154.5 43.1,148.2 44,143.9"/>
<polygon class="p" fill="#28ffd2" points="42.5,129.25 47.5,128.9 55,132.6 65,135.5 73.1,137 73.1,142 72.5,147 70,149.25 66.25,149.5 61.25,147.6 53.75,143.9 47.5,139.5 43.1,135.75"/>
<polygon class="p" fill="#28ffd2" points="814.383,697.214 815.883,695.914 818.883,695.914 820.383,697.214 818.883,698.514 815.883,698.514"/>
<polygon class="p" fill="#28ffd2" points="822.528,696.671 824.028,695.371 827.028,695.371 828.528,696.671 827.028,697.971 824.028,697.971"/>
<polygon class="p" fill="#28ffd2" points="829.316,694.499 830.816,693.199 833.816,693.199 835.316,694.499 833.816,695.799 830.816,695.799"/>
<polygon class="p" fill="#28ffd2" points="834.746,691.784 836.246,690.484 839.246,690.484 840.746,691.784 839.246,693.084 836.246,693.084"/>
<polygon class="p" fill="#28ffd2" points="839.634,688.526 841.134,687.226 844.134,687.226 845.634,688.526 844.134,689.826 841.134,689.826"/>
<polygon class="p" fill="#28ffd2" points="841.534,683.638 843.034,682.338 846.034,682.338 847.534,683.638 846.034,684.938 843.034,684.938"/>
<g id="titles">
<text x="109.2" y="24.3" font-size="25.8" textLength="144.1" lengthAdjust="spacingAndGlyphs">NOAA/NCEI</text>
<text x="270" y="24.3" font-size="25.8" textLength="96.7" lengthAdjust="spacingAndGlyphs">Climate</text>
<text x="384.6" y="24.3" font-size="25.8" textLength="92.4" lengthAdjust="spacingAndGlyphs">Division</text>
<text x="498.5" y="24.3" font-size="25.8" textLength="164.8" lengthAdjust="spacingAndGlyphs">Temperature</text>
<text x="678" y="24.3" font-size="25.8" textLength="133" lengthAdjust="spacingAndGlyphs">Anomalies</text>
<text x="830" y="24.3" font-size="25.8" textLength="33.3" lengthAdjust="spacingAndGlyphs">(F)</text>
<text x="420" y="57.2" font-size="25.8" textLength="46.7" lengthAdjust="spacingAndGlyphs">Feb</text>
<text x="484" y="57.2" font-size="25.8" textLength="67.7" lengthAdjust="spacingAndGlyphs">1951</text>
<text x="283.3" y="89.6" font-size="22" textLength="68.7" lengthAdjust="spacingAndGlyphs" stroke="#000" stroke-width="0.35">Versus</text>
<text x="365.4" y="89.6" font-size="22" textLength="122.1" lengthAdjust="spacingAndGlyphs" stroke="#000" stroke-width="0.35">1895−2000</text>
<text x="500" y="89.6" font-size="22" textLength="96.7" lengthAdjust="spacingAndGlyphs" stroke="#000" stroke-width="0.35">Longterm</text>
<text x="609" y="89.6" font-size="22" textLength="81.4" lengthAdjust="spacingAndGlyphs" stroke="#000" stroke-width="0.35">Average</text>
<text x="633.5" y="780.5" font-size="20.5" textLength="49" lengthAdjust="spacingAndGlyphs" stroke="#000" stroke-width="0.3">NOAA</text>
<text x="694" y="780.5" font-size="20.5" textLength="36" lengthAdjust="spacingAndGlyphs" stroke="#000" stroke-width="0.3">PSL</text>
<text x="739" y="780.5" font-size="20.5" textLength="33.5" lengthAdjust="spacingAndGlyphs" stroke="#000" stroke-width="0.3">and</text>
<text x="782.5" y="780.5" font-size="20.5" textLength="95" lengthAdjust="spacingAndGlyphs" stroke="#000" stroke-width="0.3">CIRES−CU</text>
</g>
<g id="colorbar">
<rect x="10.50" y="788.5" width="72.31" height="55.5" fill="#0014ff" stroke="#000" stroke-width="1.3"/>
<rect x="82.81" y="788.5" width="72.31" height="55.5" fill="#0064ff" stroke="#000" stroke-width="1.3"/>
<rect x="155.12" y="788.5" width="72.31" height="55.5" fill="#00a5ff" stroke="#000" stroke-width="1.3"/>
<rect x="227.42" y="788.5" width="72.31" height="55.5" fill="#00f0ff" stroke="#000" stroke-width="1.3"/>
<rect x="299.73" y="788.5" width="72.31" height="55.5" fill="#28ffd2" stroke="#000" stroke-width="1.3"/>
<rect x="372.04" y="788.5" width="72.31" height="55.5" fill="#6eff96" stroke="#000" stroke-width="1.3"/>
<rect x="444.35" y="788.5" width="72.31" height="55.5" fill="#ffffff" stroke="#000" stroke-width="1.3"/>
<rect x="516.65" y="788.5" width="72.31" height="55.5" fill="#f0ff14" stroke="#000" stroke-width="1.3"/>
<rect x="588.96" y="788.5" width="72.31" height="55.5" fill="#ffd200" stroke="#000" stroke-width="1.3"/>
<rect x="661.27" y="788.5" width="72.31" height="55.5" fill="#ff8c00" stroke="#000" stroke-width="1.3"/>
<rect x="733.58" y="788.5" width="72.31" height="55.5" fill="#ff5000" stroke="#000" stroke-width="1.3"/>
<rect x="805.88" y="788.5" width="72.31" height="55.5" fill="#ff0a00" stroke="#000" stroke-width="1.3"/>
<rect x="878.19" y="788.5" width="72.31" height="55.5" fill="#be0000" stroke="#000" stroke-width="1.3"/>
<rect x="50.0" y="868.2" width="25.5" height="2.2" fill="#000"/>
<text x="79.0" y="881" font-size="37.7" textLength="58.5" lengthAdjust="spacing">5.0</text>
<rect x="194.6" y="868.2" width="25.5" height="2.2" fill="#000"/>
<text x="223.6" y="881" font-size="37.7" textLength="58.5" lengthAdjust="spacing">3.0</text>
<rect x="339.2" y="868.2" width="25.5" height="2.2" fill="#000"/>
<text x="366.2" y="881" font-size="37.7" textLength="60" lengthAdjust="spacing">1.0</text>
<text x="509.5" y="881" font-size="37.7" textLength="56" lengthAdjust="spacing">1.0</text>
<text x="651.5" y="881" font-size="37.7" textLength="59.5" lengthAdjust="spacing">3.0</text>
<text x="795" y="881" font-size="37.7" textLength="59.5" lengthAdjust="spacing">5.0</text>
</g>
</svg>
</body></html>
